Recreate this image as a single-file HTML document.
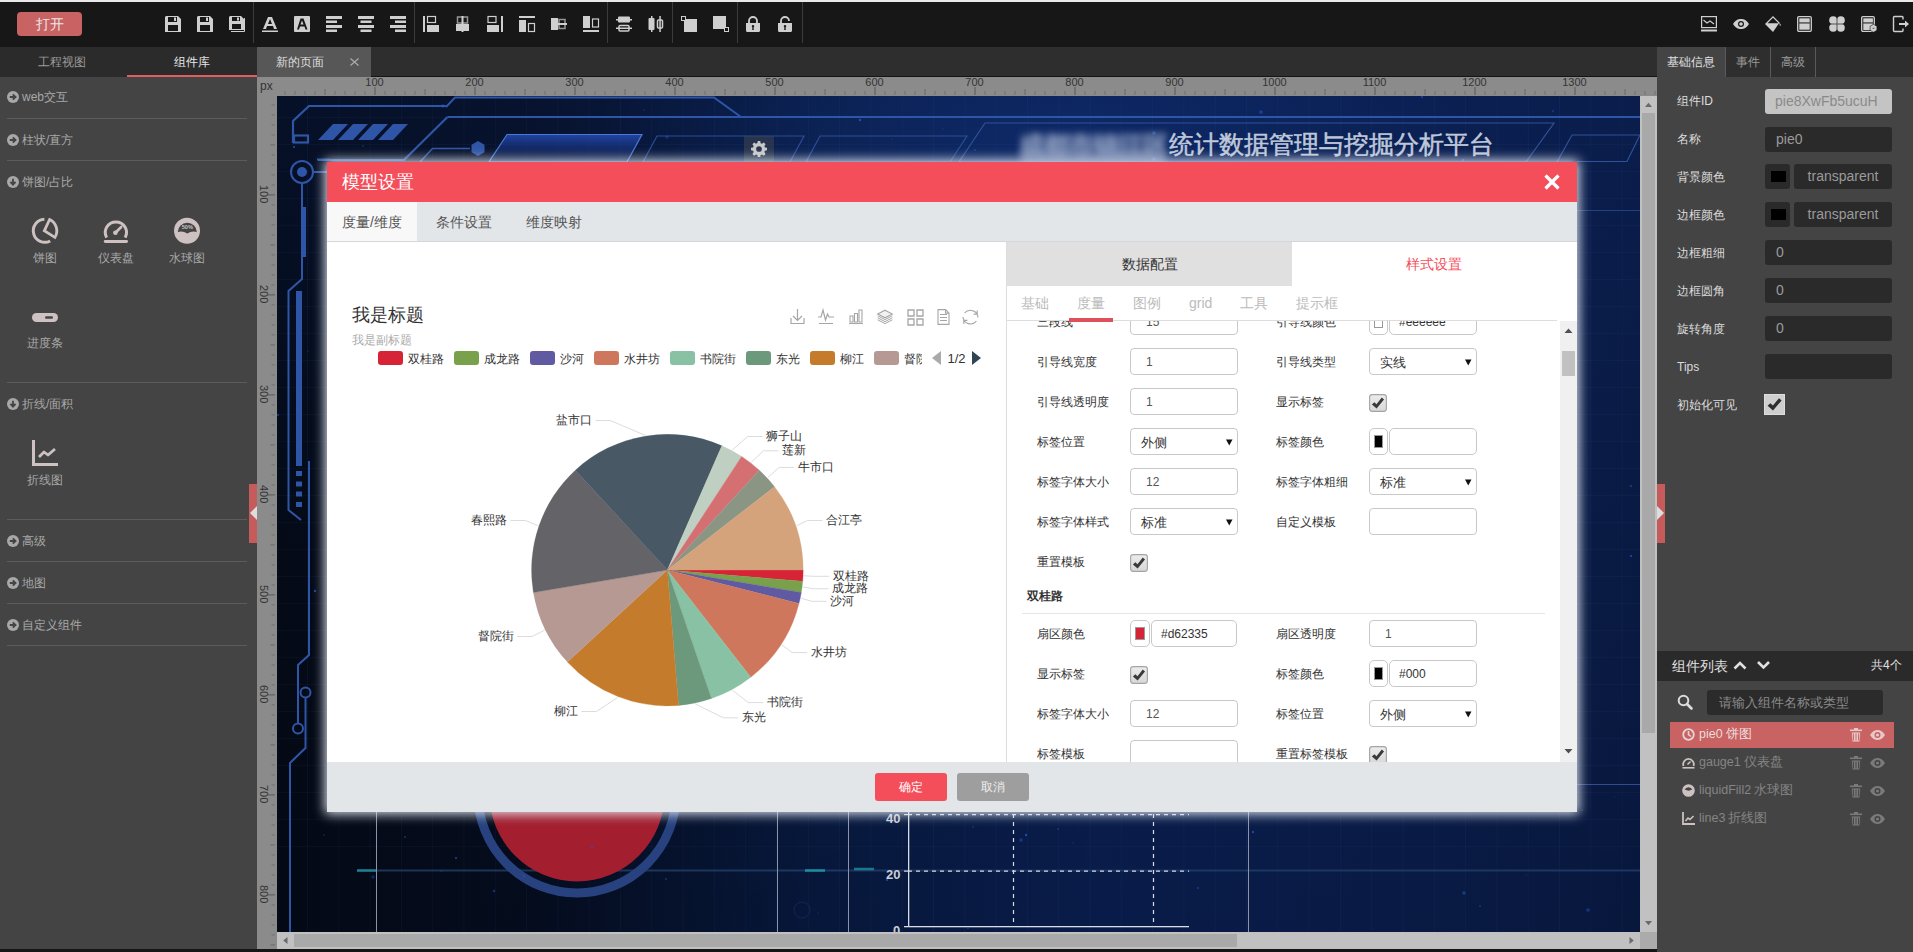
<!DOCTYPE html><html><head><meta charset="utf-8"><style>
*{box-sizing:border-box;margin:0;padding:0}
html,body{width:1913px;height:952px;overflow:hidden;background:#444;font-family:"Liberation Sans",sans-serif;font-size:12px;color:#333}
.a{position:absolute;white-space:nowrap}
svg{position:absolute;overflow:visible}
.t{position:absolute;white-space:nowrap;line-height:1}
</style></head><body>
<div class="a" style="left:0px;top:0px;width:1913px;height:2px;background:#e9e9e9;"></div>
<div class="a" style="left:0px;top:2px;width:1913px;height:45px;background:#171717;"></div>
<div class="a" style="left:17px;top:12px;width:65px;height:24px;background:#c96262;border-radius:4px;color:#e8e8e8;font-size:14px;text-align:center;line-height:24px">打开</div>
<div class="a" style="left:253px;top:2px;width:1px;height:41px;background:#3c3c3c;"></div>
<div class="a" style="left:414px;top:2px;width:1px;height:41px;background:#3c3c3c;"></div>
<div class="a" style="left:607px;top:2px;width:1px;height:41px;background:#3c3c3c;"></div>
<div class="a" style="left:672px;top:2px;width:1px;height:41px;background:#3c3c3c;"></div>
<div class="a" style="left:737px;top:2px;width:1px;height:41px;background:#3c3c3c;"></div>
<div class="a" style="left:802px;top:2px;width:1px;height:41px;background:#3c3c3c;"></div>
<svg style="left:165px;top:16px" width="16" height="16" viewBox="0 0 16 16"><path d="M1 0h12l3 3v13H0V1z M3 1v5h9V1z M3 9v6h10V9z M9 1.5h2v3.5H9z" fill="#cfcfcf" fill-rule="evenodd"/></svg>
<svg style="left:197px;top:16px" width="16" height="16" viewBox="0 0 16 16"><path d="M1 0h12l3 3v13H0V1z M3 1v5h9V1z M3 9v6h10V9z M9 1.5h2v3.5H9z" fill="#cfcfcf" fill-rule="evenodd"/></svg>
<svg style="left:229px;top:16px" width="16" height="16" viewBox="0 0 16 16"><path d="M1 0h11l3 3v11H0V1z M3 1v4h8V1z M3 8v5h9V8z M8 1.5h2v3H8z" fill="#cfcfcf" fill-rule="evenodd"/><path d="M2 15.5h13.5V2" stroke="#cfcfcf" fill="none" stroke-width="1"/></svg>
<svg style="left:262px;top:16px" width="16" height="16" viewBox="0 0 16 16"><path d="M6 1h4l5 12h-3l-1-3H5l-1 3H1z M6 8h4l-2-5z" fill="#cfcfcf" fill-rule="evenodd"/><rect x="0" y="14.5" width="16" height="1.5" fill="#cfcfcf"/></svg>
<svg style="left:294px;top:16px" width="16" height="16" viewBox="0 0 16 16"><path d="M1 0h14a1 1 0 0 1 1 1v14a1 1 0 0 1-1 1H1a1 1 0 0 1-1-1V1a1 1 0 0 1 1-1z M6.5 2.5h3l4 11h-2l-1-3h-4.5l-1 3h-2z M6.5 8.5h3l-1.5-4z" fill="#cfcfcf" fill-rule="evenodd"/></svg>
<svg style="left:326px;top:16px" width="16" height="16" viewBox="0 0 16 16"><rect x="0" y="0" width="16" height="3" fill="#cfcfcf"/><rect x="0" y="4.5" width="11" height="2.5" fill="#cfcfcf"/><rect x="0" y="9" width="16" height="3" fill="#cfcfcf"/><rect x="0" y="13.5" width="11" height="2.5" fill="#cfcfcf"/></svg>
<svg style="left:358px;top:16px" width="16" height="16" viewBox="0 0 16 16"><rect x="0" y="0" width="16" height="3" fill="#cfcfcf"/><rect x="2.5" y="4.5" width="11" height="2.5" fill="#cfcfcf"/><rect x="0" y="9" width="16" height="3" fill="#cfcfcf"/><rect x="2.5" y="13.5" width="11" height="2.5" fill="#cfcfcf"/></svg>
<svg style="left:390px;top:16px" width="16" height="16" viewBox="0 0 16 16"><rect x="0" y="0" width="16" height="3" fill="#cfcfcf"/><rect x="5" y="4.5" width="11" height="2.5" fill="#cfcfcf"/><rect x="0" y="9" width="16" height="3" fill="#cfcfcf"/><rect x="5" y="13.5" width="11" height="2.5" fill="#cfcfcf"/></svg>
<svg style="left:423px;top:16px" width="16" height="16" viewBox="0 0 16 16"><rect x="0" y="0" width="2" height="16" fill="#cfcfcf"/><rect x="4.5" y="0.5" width="8" height="6" fill="none" stroke="#cfcfcf" stroke-width="1.2"/><rect x="4" y="9" width="12" height="7" fill="#cfcfcf"/></svg>
<svg style="left:456px;top:16px" width="16" height="16" viewBox="0 0 16 16"><rect x="1.5" y="1" width="10" height="6" fill="none" stroke="#cfcfcf" stroke-width="1.5" opacity=".7"/><rect x="0" y="8" width="13" height="7" fill="#cfcfcf"/><rect x="5.5" y="0" width="2" height="16" fill="#cfcfcf"/></svg>
<svg style="left:487px;top:16px" width="16" height="16" viewBox="0 0 16 16"><rect x="14" y="0" width="2" height="16" fill="#cfcfcf"/><rect x="1" y="0.5" width="8" height="6" fill="none" stroke="#cfcfcf" stroke-width="1.2"/><rect x="0" y="9" width="12" height="7" fill="#cfcfcf"/></svg>
<svg style="left:519px;top:16px" width="16" height="16" viewBox="0 0 16 16"><rect x="0" y="0" width="16" height="2" fill="#cfcfcf"/><rect x="0" y="4" width="7" height="12" fill="#cfcfcf"/><rect x="9.5" y="7.5" width="6" height="8" fill="none" stroke="#cfcfcf" stroke-width="1.2"/></svg>
<svg style="left:551px;top:16px" width="16" height="16" viewBox="0 0 16 16"><rect x="0" y="2" width="7" height="12" fill="#cfcfcf"/><rect x="8" y="3.5" width="6" height="9" fill="none" stroke="#cfcfcf" stroke-width="1.5" opacity=".7"/><rect x="0" y="7" width="16" height="2" fill="#cfcfcf"/></svg>
<svg style="left:583px;top:16px" width="16" height="16" viewBox="0 0 16 16"><rect x="0" y="0" width="7" height="12" fill="#cfcfcf"/><rect x="9.5" y="3" width="6" height="8" fill="none" stroke="#cfcfcf" stroke-width="1.2"/><rect x="0" y="14" width="16" height="2" fill="#cfcfcf"/></svg>
<svg style="left:616px;top:16px" width="16" height="16" viewBox="0 0 16 16"><rect x="2" y="0.5" width="12" height="6" rx="1" fill="#cfcfcf"/><rect x="0" y="3" width="16" height="1.5" fill="#cfcfcf"/><rect x="3" y="9.5" width="10" height="5.5" rx="1" fill="none" stroke="#cfcfcf" stroke-width="1.5"/><rect x="0" y="11.5" width="16" height="1.5" fill="#cfcfcf"/></svg>
<svg style="left:648px;top:16px" width="16" height="16" viewBox="0 0 16 16"><rect x="0.5" y="2" width="6" height="12" rx="1" fill="#cfcfcf"/><rect x="3" y="0" width="1.5" height="16" fill="#cfcfcf"/><rect x="9.5" y="4" width="5" height="8" rx="1" fill="none" stroke="#cfcfcf" stroke-width="1.5"/><rect x="11.3" y="0" width="1.5" height="16" fill="#cfcfcf"/></svg>
<svg style="left:681px;top:16px" width="16" height="16" viewBox="0 0 16 16"><rect x="3" y="3" width="13" height="13" fill="#cfcfcf"/><rect x="0.5" y="0.5" width="4" height="4" fill="#171717" stroke="#cfcfcf" stroke-width="1"/></svg>
<svg style="left:713px;top:16px" width="16" height="16" viewBox="0 0 16 16"><rect x="0" y="0" width="13" height="13" fill="#cfcfcf"/><rect x="11.5" y="11.5" width="4" height="4" fill="#171717" stroke="#cfcfcf" stroke-width="1"/></svg>
<svg style="left:745px;top:16px" width="16" height="16" viewBox="0 0 16 16"><path d="M4 7V5a4 4 0 0 1 8 0v2" fill="none" stroke="#cfcfcf" stroke-width="1.8"/><path d="M1 7h14v7.5a1.5 1.5 0 0 1-1.5 1.5h-11A1.5 1.5 0 0 1 1 14.5z M8 9a1.3 1.3 0 0 0-.6 2.4L7.2 14h1.6l-.2-2.6A1.3 1.3 0 0 0 8 9z" fill="#cfcfcf" fill-rule="evenodd"/></svg>
<svg style="left:777px;top:16px" width="16" height="16" viewBox="0 0 16 16"><path d="M4 7V5a4 4 0 0 1 8 0" fill="none" stroke="#cfcfcf" stroke-width="1.8"/><path d="M1 7h14v7.5a1.5 1.5 0 0 1-1.5 1.5h-11A1.5 1.5 0 0 1 1 14.5z M8 9a1.3 1.3 0 0 0-.6 2.4L7.2 14h1.6l-.2-2.6A1.3 1.3 0 0 0 8 9z" fill="#cfcfcf" fill-rule="evenodd"/></svg>
<svg style="left:1701px;top:16px" width="16" height="16" viewBox="0 0 16 16"><rect x="0.6" y="0.6" width="14.8" height="11" fill="none" stroke="#cfcfcf" stroke-width="1.2"/><path d="M2.5 4l3.5 3 3-2 4 3" fill="none" stroke="#cfcfcf" stroke-width="1.1"/><rect x="0" y="13.5" width="16" height="2" fill="#cfcfcf"/></svg>
<svg style="left:1733px;top:16px" width="16" height="16" viewBox="0 0 16 16"><path d="M0 8C2.5 4 5 3 8 3s5.5 1 8 5c-2.5 4-5 5-8 5s-5.5-1-8-5z M8 5a3 3 0 1 0 0 6a3 3 0 1 0 0-6z" fill="#cfcfcf" fill-rule="evenodd"/><circle cx="8" cy="8" r="1.8" fill="#cfcfcf"/></svg>
<svg style="left:1765px;top:16px" width="16" height="16" viewBox="0 0 16 16"><path d="M8 0l6.5 6.5L8 16 0 8z M8 1.8L2.5 7.3h11z" fill="#cfcfcf" fill-rule="evenodd"/><path d="M14 6l2 3-1 1z" fill="#cfcfcf"/></svg>
<svg style="left:1797px;top:16px" width="16" height="16" viewBox="0 0 16 16"><rect x="0.7" y="0.7" width="13.6" height="14.6" rx="1.2" fill="none" stroke="#cfcfcf" stroke-width="1.3"/><rect x="2.3" y="2.3" width="10.4" height="4" fill="#cfcfcf"/><rect x="2.3" y="6.3" width="10.4" height="1.4" fill="#777"/><rect x="2.3" y="7.7" width="10.4" height="6" fill="#cfcfcf"/></svg>
<svg style="left:1829px;top:16px" width="16" height="16" viewBox="0 0 16 16"><circle cx="4.2" cy="4.2" r="4" fill="#cfcfcf"/><circle cx="11.8" cy="4.2" r="4" fill="#cfcfcf"/><circle cx="4.2" cy="11.8" r="4" fill="#cfcfcf"/><circle cx="11.8" cy="11.8" r="4" fill="#cfcfcf"/><rect x="4.2" y="4.2" width="7.6" height="7.6" fill="#cfcfcf"/><path d="M8 0v16 M0 8h16" stroke="#171717" stroke-width=".9" opacity=".75"/></svg>
<svg style="left:1861px;top:16px" width="16" height="16" viewBox="0 0 16 16"><rect x="0.7" y="0.7" width="12.6" height="14.6" rx="1.2" fill="none" stroke="#cfcfcf" stroke-width="1.3"/><rect x="2.3" y="2.3" width="9.6" height="4" fill="#cfcfcf"/><rect x="2.3" y="6.3" width="9.6" height="1.4" fill="#777"/><rect x="2.3" y="7.7" width="9.6" height="6.3" fill="#cfcfcf"/><path d="M12.5 8.3l3.4 2v4l-3.4 2-3.4-2v-4z" fill="#cfcfcf" stroke="#171717" stroke-width=".6"/><rect x="11.6" y="11.8" width="1.8" height="1" fill="#555"/></svg>
<svg style="left:1893px;top:16px" width="16" height="16" viewBox="0 0 16 16"><path d="M10 3.5V1.5a1 1 0 0 0-1-1H1.5a1 1 0 0 0-1 1v13a1 1 0 0 0 1 1H9a1 1 0 0 0 1-1v-2" fill="none" stroke="#cfcfcf" stroke-width="1.4"/><path d="M6 7h6V4.5l4 3.5-4 3.5V9H6z" fill="#cfcfcf"/></svg>
<div class="a" style="left:0px;top:47px;width:257px;height:30px;background:#2b2b2b;"></div>
<div class="a" style="left:127px;top:75px;width:130px;height:2px;background:#df5f60;"></div>
<div class="t" style="left:-38.0px;top:53.5px;width:200px;text-align:center;height:16px;line-height:16px;font-size:12px;color:#9a9a9a;">工程视图</div>
<div class="t" style="left:92.0px;top:53.5px;width:200px;text-align:center;height:16px;line-height:16px;font-size:12px;color:#e6e6e6;">组件库</div>
<div class="a" style="left:0px;top:77px;width:257px;height:875px;background:#444;"></div>
<svg style="left:7px;top:91px" width="12" height="12" viewBox="0 0 12 12"><circle cx="6" cy="6" r="6" fill="#a8a8a8"/><path d="M2.8 6h5.2 M5.8 3.4L8.6 6 5.8 8.6" stroke="#444" stroke-width="1.8" fill="none"/></svg>
<div class="t" style="left:22px;top:89.0px;height:16px;line-height:16px;font-size:12px;color:#a8a8a8;">web交互</div>
<svg style="left:7px;top:133.5px" width="12" height="12" viewBox="0 0 12 12"><circle cx="6" cy="6" r="6" fill="#a8a8a8"/><path d="M2.8 6h5.2 M5.8 3.4L8.6 6 5.8 8.6" stroke="#444" stroke-width="1.8" fill="none"/></svg>
<div class="t" style="left:22px;top:131.5px;height:16px;line-height:16px;font-size:12px;color:#a8a8a8;">柱状/直方</div>
<svg style="left:7px;top:176px" width="12" height="12" viewBox="0 0 12 12"><circle cx="6" cy="6" r="6" fill="#a8a8a8"/><path d="M6 2.8v5.2 M3.4 5.8L6 8.6 8.6 5.8" stroke="#444" stroke-width="1.8" fill="none"/></svg>
<div class="t" style="left:22px;top:174.0px;height:16px;line-height:16px;font-size:12px;color:#a8a8a8;">饼图/占比</div>
<svg style="left:7px;top:398px" width="12" height="12" viewBox="0 0 12 12"><circle cx="6" cy="6" r="6" fill="#a8a8a8"/><path d="M6 2.8v5.2 M3.4 5.8L6 8.6 8.6 5.8" stroke="#444" stroke-width="1.8" fill="none"/></svg>
<div class="t" style="left:22px;top:396.0px;height:16px;line-height:16px;font-size:12px;color:#a8a8a8;">折线/面积</div>
<svg style="left:7px;top:534.5px" width="12" height="12" viewBox="0 0 12 12"><circle cx="6" cy="6" r="6" fill="#a8a8a8"/><path d="M2.8 6h5.2 M5.8 3.4L8.6 6 5.8 8.6" stroke="#444" stroke-width="1.8" fill="none"/></svg>
<div class="t" style="left:22px;top:532.5px;height:16px;line-height:16px;font-size:12px;color:#a8a8a8;">高级</div>
<svg style="left:7px;top:576.5px" width="12" height="12" viewBox="0 0 12 12"><circle cx="6" cy="6" r="6" fill="#a8a8a8"/><path d="M2.8 6h5.2 M5.8 3.4L8.6 6 5.8 8.6" stroke="#444" stroke-width="1.8" fill="none"/></svg>
<div class="t" style="left:22px;top:574.5px;height:16px;line-height:16px;font-size:12px;color:#a8a8a8;">地图</div>
<svg style="left:7px;top:618.5px" width="12" height="12" viewBox="0 0 12 12"><circle cx="6" cy="6" r="6" fill="#a8a8a8"/><path d="M2.8 6h5.2 M5.8 3.4L8.6 6 5.8 8.6" stroke="#444" stroke-width="1.8" fill="none"/></svg>
<div class="t" style="left:22px;top:616.5px;height:16px;line-height:16px;font-size:12px;color:#a8a8a8;">自定义组件</div>
<div class="a" style="left:7px;top:118px;width:240px;height:1px;background:#5c5c5c;"></div>
<div class="a" style="left:7px;top:160px;width:240px;height:1px;background:#5c5c5c;"></div>
<div class="a" style="left:7px;top:382px;width:240px;height:1px;background:#5c5c5c;"></div>
<div class="a" style="left:7px;top:519px;width:240px;height:1px;background:#5c5c5c;"></div>
<div class="a" style="left:7px;top:561px;width:240px;height:1px;background:#5c5c5c;"></div>
<div class="a" style="left:7px;top:603px;width:240px;height:1px;background:#5c5c5c;"></div>
<div class="a" style="left:7px;top:645px;width:240px;height:1px;background:#5c5c5c;"></div>
<svg style="left:31px;top:217px" width="28" height="28" viewBox="0 0 28 28"><path d="M13.4 2.3A11.5 11.5 0 1 0 19.2 23.95" fill="none" stroke="#cdc1c1" stroke-width="3"/><path d="M13.3 13.8L18.6 2.5A12.5 12.5 0 0 1 23.9 20.4Z" fill="none" stroke="#cdc1c1" stroke-width="2.8"/></svg>
<svg style="left:103px;top:219px" width="26" height="25" viewBox="0 0 26 25"><path d="M3.6 18.6A10.6 10.6 0 1 1 22.2 18.6" fill="none" stroke="#cdc1c1" stroke-width="3"/><path d="M12.4 13.7l5.8-5.7" stroke="#cdc1c1" stroke-width="2.6" stroke-linecap="round"/><circle cx="12.4" cy="13.7" r="2.3" fill="#cdc1c1"/><rect x="0.8" y="21" width="24.2" height="3" rx="1.4" fill="#cdc1c1"/></svg>
<svg style="left:174px;top:218px" width="26" height="26" viewBox="0 0 26 26"><circle cx="13" cy="12.8" r="13" fill="#cdc1c1"/><path d="M3.8 14A9.5 9.2 0 0 1 22.8 14Q18 12.4 13.3 15.4Q8.6 12.4 3.8 14Z" fill="#444"/><text x="13.3" y="10.6" font-size="5.6" font-weight="bold" fill="#cdc1c1" text-anchor="middle" font-family="Liberation Sans">50%</text></svg>
<div class="t" style="left:-55.0px;top:249.5px;width:200px;text-align:center;height:16px;line-height:16px;font-size:12px;color:#a8a8a8;">饼图</div>
<div class="t" style="left:16.0px;top:249.5px;width:200px;text-align:center;height:16px;line-height:16px;font-size:12px;color:#a8a8a8;">仪表盘</div>
<div class="t" style="left:87.0px;top:249.5px;width:200px;text-align:center;height:16px;line-height:16px;font-size:12px;color:#a8a8a8;">水球图</div>
<svg style="left:32px;top:313px" width="26" height="10" viewBox="0 0 26 10"><rect x="0" y="0" width="26" height="9" rx="4.5" fill="#cdc1c1"/><rect x="13" y="3.2" width="8" height="2.6" rx="1.3" fill="#444"/></svg>
<div class="t" style="left:-55.0px;top:335.0px;width:200px;text-align:center;height:16px;line-height:16px;font-size:12px;color:#a8a8a8;">进度条</div>
<svg style="left:32px;top:440px" width="26" height="26" viewBox="0 0 26 26"><path d="M1.5 0v24.5H26" fill="none" stroke="#cdc1c1" stroke-width="3"/><path d="M7 17l5-5 4 3 7-6" fill="none" stroke="#cdc1c1" stroke-width="2.8" stroke-linejoin="round"/></svg>
<div class="t" style="left:-55.0px;top:471.5px;width:200px;text-align:center;height:16px;line-height:16px;font-size:12px;color:#a8a8a8;">折线图</div>
<div class="a" style="left:249px;top:484px;width:8px;height:59px;background:#c55b5b;"></div>
<svg style="left:249px;top:504px" width="8" height="18" viewBox="0 0 8 18"><path d="M8 2L1 9l7 7z" fill="#ddd"/></svg>
<div class="a" style="left:257px;top:47px;width:1400px;height:30px;background:#2e2e2e;"></div>
<div class="a" style="left:257px;top:47px;width:114px;height:30px;background:#575757;"></div>
<div class="a" style="left:371px;top:76px;width:1286px;height:1px;background:#141414;"></div>
<div class="t" style="left:276px;top:53.5px;height:16px;line-height:16px;font-size:12px;color:#dcdcdc;">新的页面</div>
<svg style="left:350px;top:58px" width="9" height="8" viewBox="0 0 9 8"><path d="M.5 .5l8 7 M8.5 .5l-8 7" stroke="#a8a8a8" stroke-width="1.3"/></svg>
<div class="a" style="left:257px;top:77px;width:1400px;height:19px;background:#8b8b8b;"></div>
<svg style="left:277px;top:77px" width="1380" height="19"><rect x="7.5" y="14" width="1" height="4" fill="#727272"/><rect x="17.5" y="14" width="1" height="4" fill="#727272"/><rect x="27.5" y="14" width="1" height="4" fill="#727272"/><rect x="37.5" y="14" width="1" height="4" fill="#727272"/><rect x="47.5" y="12" width="1" height="6" fill="#6a6a6a"/><rect x="57.5" y="14" width="1" height="4" fill="#727272"/><rect x="67.5" y="14" width="1" height="4" fill="#727272"/><rect x="77.5" y="14" width="1" height="4" fill="#727272"/><rect x="87.5" y="14" width="1" height="4" fill="#727272"/><rect x="97.5" y="10" width="1" height="8" fill="#5a5a5a"/><rect x="107.5" y="14" width="1" height="4" fill="#727272"/><rect x="117.5" y="14" width="1" height="4" fill="#727272"/><rect x="127.5" y="14" width="1" height="4" fill="#727272"/><rect x="137.5" y="14" width="1" height="4" fill="#727272"/><rect x="147.5" y="12" width="1" height="6" fill="#6a6a6a"/><rect x="157.5" y="14" width="1" height="4" fill="#727272"/><rect x="167.5" y="14" width="1" height="4" fill="#727272"/><rect x="177.5" y="14" width="1" height="4" fill="#727272"/><rect x="187.5" y="14" width="1" height="4" fill="#727272"/><rect x="197.5" y="10" width="1" height="8" fill="#5a5a5a"/><rect x="207.5" y="14" width="1" height="4" fill="#727272"/><rect x="217.5" y="14" width="1" height="4" fill="#727272"/><rect x="227.5" y="14" width="1" height="4" fill="#727272"/><rect x="237.5" y="14" width="1" height="4" fill="#727272"/><rect x="247.5" y="12" width="1" height="6" fill="#6a6a6a"/><rect x="257.5" y="14" width="1" height="4" fill="#727272"/><rect x="267.5" y="14" width="1" height="4" fill="#727272"/><rect x="277.5" y="14" width="1" height="4" fill="#727272"/><rect x="287.5" y="14" width="1" height="4" fill="#727272"/><rect x="297.5" y="10" width="1" height="8" fill="#5a5a5a"/><rect x="307.5" y="14" width="1" height="4" fill="#727272"/><rect x="317.5" y="14" width="1" height="4" fill="#727272"/><rect x="327.5" y="14" width="1" height="4" fill="#727272"/><rect x="337.5" y="14" width="1" height="4" fill="#727272"/><rect x="347.5" y="12" width="1" height="6" fill="#6a6a6a"/><rect x="357.5" y="14" width="1" height="4" fill="#727272"/><rect x="367.5" y="14" width="1" height="4" fill="#727272"/><rect x="377.5" y="14" width="1" height="4" fill="#727272"/><rect x="387.5" y="14" width="1" height="4" fill="#727272"/><rect x="397.5" y="10" width="1" height="8" fill="#5a5a5a"/><rect x="407.5" y="14" width="1" height="4" fill="#727272"/><rect x="417.5" y="14" width="1" height="4" fill="#727272"/><rect x="427.5" y="14" width="1" height="4" fill="#727272"/><rect x="437.5" y="14" width="1" height="4" fill="#727272"/><rect x="447.5" y="12" width="1" height="6" fill="#6a6a6a"/><rect x="457.5" y="14" width="1" height="4" fill="#727272"/><rect x="467.5" y="14" width="1" height="4" fill="#727272"/><rect x="477.5" y="14" width="1" height="4" fill="#727272"/><rect x="487.5" y="14" width="1" height="4" fill="#727272"/><rect x="497.5" y="10" width="1" height="8" fill="#5a5a5a"/><rect x="507.5" y="14" width="1" height="4" fill="#727272"/><rect x="517.5" y="14" width="1" height="4" fill="#727272"/><rect x="527.5" y="14" width="1" height="4" fill="#727272"/><rect x="537.5" y="14" width="1" height="4" fill="#727272"/><rect x="547.5" y="12" width="1" height="6" fill="#6a6a6a"/><rect x="557.5" y="14" width="1" height="4" fill="#727272"/><rect x="567.5" y="14" width="1" height="4" fill="#727272"/><rect x="577.5" y="14" width="1" height="4" fill="#727272"/><rect x="587.5" y="14" width="1" height="4" fill="#727272"/><rect x="597.5" y="10" width="1" height="8" fill="#5a5a5a"/><rect x="607.5" y="14" width="1" height="4" fill="#727272"/><rect x="617.5" y="14" width="1" height="4" fill="#727272"/><rect x="627.5" y="14" width="1" height="4" fill="#727272"/><rect x="637.5" y="14" width="1" height="4" fill="#727272"/><rect x="647.5" y="12" width="1" height="6" fill="#6a6a6a"/><rect x="657.5" y="14" width="1" height="4" fill="#727272"/><rect x="667.5" y="14" width="1" height="4" fill="#727272"/><rect x="677.5" y="14" width="1" height="4" fill="#727272"/><rect x="687.5" y="14" width="1" height="4" fill="#727272"/><rect x="697.5" y="10" width="1" height="8" fill="#5a5a5a"/><rect x="707.5" y="14" width="1" height="4" fill="#727272"/><rect x="717.5" y="14" width="1" height="4" fill="#727272"/><rect x="727.5" y="14" width="1" height="4" fill="#727272"/><rect x="737.5" y="14" width="1" height="4" fill="#727272"/><rect x="747.5" y="12" width="1" height="6" fill="#6a6a6a"/><rect x="757.5" y="14" width="1" height="4" fill="#727272"/><rect x="767.5" y="14" width="1" height="4" fill="#727272"/><rect x="777.5" y="14" width="1" height="4" fill="#727272"/><rect x="787.5" y="14" width="1" height="4" fill="#727272"/><rect x="797.5" y="10" width="1" height="8" fill="#5a5a5a"/><rect x="807.5" y="14" width="1" height="4" fill="#727272"/><rect x="817.5" y="14" width="1" height="4" fill="#727272"/><rect x="827.5" y="14" width="1" height="4" fill="#727272"/><rect x="837.5" y="14" width="1" height="4" fill="#727272"/><rect x="847.5" y="12" width="1" height="6" fill="#6a6a6a"/><rect x="857.5" y="14" width="1" height="4" fill="#727272"/><rect x="867.5" y="14" width="1" height="4" fill="#727272"/><rect x="877.5" y="14" width="1" height="4" fill="#727272"/><rect x="887.5" y="14" width="1" height="4" fill="#727272"/><rect x="897.5" y="10" width="1" height="8" fill="#5a5a5a"/><rect x="907.5" y="14" width="1" height="4" fill="#727272"/><rect x="917.5" y="14" width="1" height="4" fill="#727272"/><rect x="927.5" y="14" width="1" height="4" fill="#727272"/><rect x="937.5" y="14" width="1" height="4" fill="#727272"/><rect x="947.5" y="12" width="1" height="6" fill="#6a6a6a"/><rect x="957.5" y="14" width="1" height="4" fill="#727272"/><rect x="967.5" y="14" width="1" height="4" fill="#727272"/><rect x="977.5" y="14" width="1" height="4" fill="#727272"/><rect x="987.5" y="14" width="1" height="4" fill="#727272"/><rect x="997.5" y="10" width="1" height="8" fill="#5a5a5a"/><rect x="1007.5" y="14" width="1" height="4" fill="#727272"/><rect x="1017.5" y="14" width="1" height="4" fill="#727272"/><rect x="1027.5" y="14" width="1" height="4" fill="#727272"/><rect x="1037.5" y="14" width="1" height="4" fill="#727272"/><rect x="1047.5" y="12" width="1" height="6" fill="#6a6a6a"/><rect x="1057.5" y="14" width="1" height="4" fill="#727272"/><rect x="1067.5" y="14" width="1" height="4" fill="#727272"/><rect x="1077.5" y="14" width="1" height="4" fill="#727272"/><rect x="1087.5" y="14" width="1" height="4" fill="#727272"/><rect x="1097.5" y="10" width="1" height="8" fill="#5a5a5a"/><rect x="1107.5" y="14" width="1" height="4" fill="#727272"/><rect x="1117.5" y="14" width="1" height="4" fill="#727272"/><rect x="1127.5" y="14" width="1" height="4" fill="#727272"/><rect x="1137.5" y="14" width="1" height="4" fill="#727272"/><rect x="1147.5" y="12" width="1" height="6" fill="#6a6a6a"/><rect x="1157.5" y="14" width="1" height="4" fill="#727272"/><rect x="1167.5" y="14" width="1" height="4" fill="#727272"/><rect x="1177.5" y="14" width="1" height="4" fill="#727272"/><rect x="1187.5" y="14" width="1" height="4" fill="#727272"/><rect x="1197.5" y="10" width="1" height="8" fill="#5a5a5a"/><rect x="1207.5" y="14" width="1" height="4" fill="#727272"/><rect x="1217.5" y="14" width="1" height="4" fill="#727272"/><rect x="1227.5" y="14" width="1" height="4" fill="#727272"/><rect x="1237.5" y="14" width="1" height="4" fill="#727272"/><rect x="1247.5" y="12" width="1" height="6" fill="#6a6a6a"/><rect x="1257.5" y="14" width="1" height="4" fill="#727272"/><rect x="1267.5" y="14" width="1" height="4" fill="#727272"/><rect x="1277.5" y="14" width="1" height="4" fill="#727272"/><rect x="1287.5" y="14" width="1" height="4" fill="#727272"/><rect x="1297.5" y="10" width="1" height="8" fill="#5a5a5a"/><rect x="1307.5" y="14" width="1" height="4" fill="#727272"/><rect x="1317.5" y="14" width="1" height="4" fill="#727272"/><rect x="1327.5" y="14" width="1" height="4" fill="#727272"/><rect x="1337.5" y="14" width="1" height="4" fill="#727272"/><rect x="1347.5" y="12" width="1" height="6" fill="#6a6a6a"/><rect x="1357.5" y="14" width="1" height="4" fill="#727272"/><rect x="1367.5" y="14" width="1" height="4" fill="#727272"/><rect x="1377.5" y="14" width="1" height="4" fill="#727272"/></svg>
<div class="t" style="left:260px;top:77.5px;height:16px;line-height:16px;font-size:12px;color:#333;">px</div>
<div class="t" style="left:344.5px;top:74.5px;width:60px;text-align:center;height:15px;line-height:15px;font-size:11px;color:#333;">100</div>
<div class="t" style="left:444.5px;top:74.5px;width:60px;text-align:center;height:15px;line-height:15px;font-size:11px;color:#333;">200</div>
<div class="t" style="left:544.5px;top:74.5px;width:60px;text-align:center;height:15px;line-height:15px;font-size:11px;color:#333;">300</div>
<div class="t" style="left:644.5px;top:74.5px;width:60px;text-align:center;height:15px;line-height:15px;font-size:11px;color:#333;">400</div>
<div class="t" style="left:744.5px;top:74.5px;width:60px;text-align:center;height:15px;line-height:15px;font-size:11px;color:#333;">500</div>
<div class="t" style="left:844.5px;top:74.5px;width:60px;text-align:center;height:15px;line-height:15px;font-size:11px;color:#333;">600</div>
<div class="t" style="left:944.5px;top:74.5px;width:60px;text-align:center;height:15px;line-height:15px;font-size:11px;color:#333;">700</div>
<div class="t" style="left:1044.5px;top:74.5px;width:60px;text-align:center;height:15px;line-height:15px;font-size:11px;color:#333;">800</div>
<div class="t" style="left:1144.5px;top:74.5px;width:60px;text-align:center;height:15px;line-height:15px;font-size:11px;color:#333;">900</div>
<div class="t" style="left:1244.5px;top:74.5px;width:60px;text-align:center;height:15px;line-height:15px;font-size:11px;color:#333;">1000</div>
<div class="t" style="left:1344.5px;top:74.5px;width:60px;text-align:center;height:15px;line-height:15px;font-size:11px;color:#333;">1100</div>
<div class="t" style="left:1444.5px;top:74.5px;width:60px;text-align:center;height:15px;line-height:15px;font-size:11px;color:#333;">1200</div>
<div class="t" style="left:1544.5px;top:74.5px;width:60px;text-align:center;height:15px;line-height:15px;font-size:11px;color:#333;">1300</div>
<div class="a" style="left:257px;top:96px;width:20px;height:853px;background:#8b8b8b;"></div>
<svg style="left:257px;top:95px" width="20" height="854"><rect x="14.5" y="9.4" width="3.5" height="1" fill="#727272"/><rect x="14.5" y="19.4" width="3.5" height="1" fill="#727272"/><rect x="14.5" y="29.4" width="3.5" height="1" fill="#727272"/><rect x="14.5" y="39.4" width="3.5" height="1" fill="#727272"/><rect x="13.5" y="49.4" width="4.5" height="1" fill="#6a6a6a"/><rect x="14.5" y="59.4" width="3.5" height="1" fill="#727272"/><rect x="14.5" y="69.4" width="3.5" height="1" fill="#727272"/><rect x="14.5" y="79.4" width="3.5" height="1" fill="#727272"/><rect x="14.5" y="89.4" width="3.5" height="1" fill="#727272"/><rect x="11" y="99.4" width="7" height="1" fill="#5a5a5a"/><rect x="14.5" y="109.4" width="3.5" height="1" fill="#727272"/><rect x="14.5" y="119.4" width="3.5" height="1" fill="#727272"/><rect x="14.5" y="129.4" width="3.5" height="1" fill="#727272"/><rect x="14.5" y="139.4" width="3.5" height="1" fill="#727272"/><rect x="13.5" y="149.4" width="4.5" height="1" fill="#6a6a6a"/><rect x="14.5" y="159.4" width="3.5" height="1" fill="#727272"/><rect x="14.5" y="169.4" width="3.5" height="1" fill="#727272"/><rect x="14.5" y="179.4" width="3.5" height="1" fill="#727272"/><rect x="14.5" y="189.4" width="3.5" height="1" fill="#727272"/><rect x="11" y="199.4" width="7" height="1" fill="#5a5a5a"/><rect x="14.5" y="209.4" width="3.5" height="1" fill="#727272"/><rect x="14.5" y="219.4" width="3.5" height="1" fill="#727272"/><rect x="14.5" y="229.4" width="3.5" height="1" fill="#727272"/><rect x="14.5" y="239.4" width="3.5" height="1" fill="#727272"/><rect x="13.5" y="249.4" width="4.5" height="1" fill="#6a6a6a"/><rect x="14.5" y="259.4" width="3.5" height="1" fill="#727272"/><rect x="14.5" y="269.4" width="3.5" height="1" fill="#727272"/><rect x="14.5" y="279.4" width="3.5" height="1" fill="#727272"/><rect x="14.5" y="289.4" width="3.5" height="1" fill="#727272"/><rect x="11" y="299.4" width="7" height="1" fill="#5a5a5a"/><rect x="14.5" y="309.4" width="3.5" height="1" fill="#727272"/><rect x="14.5" y="319.4" width="3.5" height="1" fill="#727272"/><rect x="14.5" y="329.4" width="3.5" height="1" fill="#727272"/><rect x="14.5" y="339.4" width="3.5" height="1" fill="#727272"/><rect x="13.5" y="349.4" width="4.5" height="1" fill="#6a6a6a"/><rect x="14.5" y="359.4" width="3.5" height="1" fill="#727272"/><rect x="14.5" y="369.4" width="3.5" height="1" fill="#727272"/><rect x="14.5" y="379.4" width="3.5" height="1" fill="#727272"/><rect x="14.5" y="389.4" width="3.5" height="1" fill="#727272"/><rect x="11" y="399.4" width="7" height="1" fill="#5a5a5a"/><rect x="14.5" y="409.4" width="3.5" height="1" fill="#727272"/><rect x="14.5" y="419.4" width="3.5" height="1" fill="#727272"/><rect x="14.5" y="429.4" width="3.5" height="1" fill="#727272"/><rect x="14.5" y="439.4" width="3.5" height="1" fill="#727272"/><rect x="13.5" y="449.4" width="4.5" height="1" fill="#6a6a6a"/><rect x="14.5" y="459.4" width="3.5" height="1" fill="#727272"/><rect x="14.5" y="469.4" width="3.5" height="1" fill="#727272"/><rect x="14.5" y="479.4" width="3.5" height="1" fill="#727272"/><rect x="14.5" y="489.4" width="3.5" height="1" fill="#727272"/><rect x="11" y="499.4" width="7" height="1" fill="#5a5a5a"/><rect x="14.5" y="509.4" width="3.5" height="1" fill="#727272"/><rect x="14.5" y="519.4" width="3.5" height="1" fill="#727272"/><rect x="14.5" y="529.4" width="3.5" height="1" fill="#727272"/><rect x="14.5" y="539.4" width="3.5" height="1" fill="#727272"/><rect x="13.5" y="549.4" width="4.5" height="1" fill="#6a6a6a"/><rect x="14.5" y="559.4" width="3.5" height="1" fill="#727272"/><rect x="14.5" y="569.4" width="3.5" height="1" fill="#727272"/><rect x="14.5" y="579.4" width="3.5" height="1" fill="#727272"/><rect x="14.5" y="589.4" width="3.5" height="1" fill="#727272"/><rect x="11" y="599.4" width="7" height="1" fill="#5a5a5a"/><rect x="14.5" y="609.4" width="3.5" height="1" fill="#727272"/><rect x="14.5" y="619.4" width="3.5" height="1" fill="#727272"/><rect x="14.5" y="629.4" width="3.5" height="1" fill="#727272"/><rect x="14.5" y="639.4" width="3.5" height="1" fill="#727272"/><rect x="13.5" y="649.4" width="4.5" height="1" fill="#6a6a6a"/><rect x="14.5" y="659.4" width="3.5" height="1" fill="#727272"/><rect x="14.5" y="669.4" width="3.5" height="1" fill="#727272"/><rect x="14.5" y="679.4" width="3.5" height="1" fill="#727272"/><rect x="14.5" y="689.4" width="3.5" height="1" fill="#727272"/><rect x="11" y="699.4" width="7" height="1" fill="#5a5a5a"/><rect x="14.5" y="709.4" width="3.5" height="1" fill="#727272"/><rect x="14.5" y="719.4" width="3.5" height="1" fill="#727272"/><rect x="14.5" y="729.4" width="3.5" height="1" fill="#727272"/><rect x="14.5" y="739.4" width="3.5" height="1" fill="#727272"/><rect x="13.5" y="749.4" width="4.5" height="1" fill="#6a6a6a"/><rect x="14.5" y="759.4" width="3.5" height="1" fill="#727272"/><rect x="14.5" y="769.4" width="3.5" height="1" fill="#727272"/><rect x="14.5" y="779.4" width="3.5" height="1" fill="#727272"/><rect x="14.5" y="789.4" width="3.5" height="1" fill="#727272"/><rect x="11" y="799.4" width="7" height="1" fill="#5a5a5a"/><rect x="14.5" y="809.4" width="3.5" height="1" fill="#727272"/><rect x="14.5" y="819.4" width="3.5" height="1" fill="#727272"/><rect x="14.5" y="829.4" width="3.5" height="1" fill="#727272"/><rect x="14.5" y="839.4" width="3.5" height="1" fill="#727272"/><rect x="13.5" y="849.4" width="4.5" height="1" fill="#6a6a6a"/></svg>
<div class="t" style="left:258px;top:174.4px;width:12px;height:40px;font-size:11px;color:#333;writing-mode:vertical-rl;text-align:center;line-height:12px">100</div>
<div class="t" style="left:258px;top:274.4px;width:12px;height:40px;font-size:11px;color:#333;writing-mode:vertical-rl;text-align:center;line-height:12px">200</div>
<div class="t" style="left:258px;top:374.4px;width:12px;height:40px;font-size:11px;color:#333;writing-mode:vertical-rl;text-align:center;line-height:12px">300</div>
<div class="t" style="left:258px;top:474.4px;width:12px;height:40px;font-size:11px;color:#333;writing-mode:vertical-rl;text-align:center;line-height:12px">400</div>
<div class="t" style="left:258px;top:574.4px;width:12px;height:40px;font-size:11px;color:#333;writing-mode:vertical-rl;text-align:center;line-height:12px">500</div>
<div class="t" style="left:258px;top:674.4px;width:12px;height:40px;font-size:11px;color:#333;writing-mode:vertical-rl;text-align:center;line-height:12px">600</div>
<div class="t" style="left:258px;top:774.4px;width:12px;height:40px;font-size:11px;color:#333;writing-mode:vertical-rl;text-align:center;line-height:12px">700</div>
<div class="t" style="left:258px;top:874.4px;width:12px;height:40px;font-size:11px;color:#333;writing-mode:vertical-rl;text-align:center;line-height:12px">800</div>
<div class="a" style="left:1640px;top:96px;width:17px;height:836px;background:#c1c1c1;"></div>
<div class="a" style="left:1642px;top:113px;width:13px;height:620px;background:#a9a9a9;"></div>
<svg style="left:1640px;top:96px" width="17" height="836"><path d="M5 11h7l-3.5-4.3z M5 825h7l-3.5 4.3z" fill="#6a6a6a"/></svg>
<div class="a" style="left:277px;top:932px;width:1363px;height:17px;background:#c1c1c1;"></div>
<div class="a" style="left:294px;top:934px;width:943px;height:13px;background:#a9a9a9;"></div>
<svg style="left:277px;top:932px" width="1363" height="17"><path d="M10.5 5v7l-4.3-3.5z M1352.5 5v7l4.3-3.5z" fill="#6a6a6a"/></svg>
<div class="a" style="left:1640px;top:932px;width:17px;height:17px;background:#ababab;"></div>
<div class="a" style="left:0px;top:949px;width:1657px;height:3px;background:#151515;"></div>
<div class="a" style="left:277px;top:96px;width:1363px;height:836px;overflow:hidden;background:linear-gradient(90deg,#040a16 0%,#050d1e 18%,#081a40 40%,#0a1f50 60%,#0a1d4a 85%,#091a42 100%)">
<div class="a" style="left:300px;top:-100px;width:900px;height:300px;background:radial-gradient(ellipse at center,rgba(20,60,140,.35),rgba(20,60,140,0) 70%)"></div>
<div class="a" style="left:0;top:0;width:1363px;height:836px;background:linear-gradient(180deg,rgba(16,44,120,.18) 0%,rgba(16,44,120,0) 55%,rgba(0,0,16,.12) 100%)"></div>
<svg style="left:0;top:0" width="1363" height="837"><rect x="30.0" y="0" width="1" height="837" fill="rgba(90,120,180,.07)"/><rect x="61.3" y="0" width="1" height="837" fill="rgba(90,120,180,.07)"/><rect x="92.6" y="0" width="1" height="837" fill="rgba(90,120,180,.07)"/><rect x="123.9" y="0" width="1" height="837" fill="rgba(90,120,180,.07)"/><rect x="155.2" y="0" width="1" height="837" fill="rgba(90,120,180,.07)"/><rect x="186.5" y="0" width="1" height="837" fill="rgba(90,120,180,.07)"/><rect x="217.8" y="0" width="1" height="837" fill="rgba(90,120,180,.07)"/><rect x="249.1" y="0" width="1" height="837" fill="rgba(90,120,180,.07)"/><rect x="280.4" y="0" width="1" height="837" fill="rgba(90,120,180,.07)"/><rect x="311.7" y="0" width="1" height="837" fill="rgba(90,120,180,.07)"/><rect x="343.0" y="0" width="1" height="837" fill="rgba(90,120,180,.07)"/><rect x="374.3" y="0" width="1" height="837" fill="rgba(90,120,180,.07)"/><rect x="405.6" y="0" width="1" height="837" fill="rgba(90,120,180,.07)"/><rect x="436.9" y="0" width="1" height="837" fill="rgba(90,120,180,.07)"/><rect x="468.2" y="0" width="1" height="837" fill="rgba(90,120,180,.07)"/><rect x="499.5" y="0" width="1" height="837" fill="rgba(90,120,180,.07)"/><rect x="530.8" y="0" width="1" height="837" fill="rgba(90,120,180,.07)"/><rect x="562.1" y="0" width="1" height="837" fill="rgba(90,120,180,.07)"/><rect x="593.4" y="0" width="1" height="837" fill="rgba(90,120,180,.07)"/><rect x="624.7" y="0" width="1" height="837" fill="rgba(90,120,180,.07)"/><rect x="656.0" y="0" width="1" height="837" fill="rgba(90,120,180,.07)"/><rect x="687.3" y="0" width="1" height="837" fill="rgba(90,120,180,.07)"/><rect x="718.6" y="0" width="1" height="837" fill="rgba(90,120,180,.07)"/><rect x="749.9" y="0" width="1" height="837" fill="rgba(90,120,180,.07)"/><rect x="781.2" y="0" width="1" height="837" fill="rgba(90,120,180,.07)"/><rect x="812.5" y="0" width="1" height="837" fill="rgba(90,120,180,.07)"/><rect x="843.8" y="0" width="1" height="837" fill="rgba(90,120,180,.07)"/><rect x="875.1" y="0" width="1" height="837" fill="rgba(90,120,180,.07)"/><rect x="906.4" y="0" width="1" height="837" fill="rgba(90,120,180,.07)"/><rect x="937.7" y="0" width="1" height="837" fill="rgba(90,120,180,.07)"/><rect x="969.0" y="0" width="1" height="837" fill="rgba(90,120,180,.07)"/><rect x="1000.3" y="0" width="1" height="837" fill="rgba(90,120,180,.07)"/><rect x="1031.6" y="0" width="1" height="837" fill="rgba(90,120,180,.07)"/><rect x="1062.9" y="0" width="1" height="837" fill="rgba(90,120,180,.07)"/><rect x="1094.2" y="0" width="1" height="837" fill="rgba(90,120,180,.07)"/><rect x="1125.5" y="0" width="1" height="837" fill="rgba(90,120,180,.07)"/><rect x="1156.8" y="0" width="1" height="837" fill="rgba(90,120,180,.07)"/><rect x="1188.1" y="0" width="1" height="837" fill="rgba(90,120,180,.07)"/><rect x="1219.4" y="0" width="1" height="837" fill="rgba(90,120,180,.07)"/><rect x="1250.7" y="0" width="1" height="837" fill="rgba(90,120,180,.07)"/><rect x="1282.0" y="0" width="1" height="837" fill="rgba(90,120,180,.07)"/><rect x="1313.3" y="0" width="1" height="837" fill="rgba(90,120,180,.07)"/><rect x="1344.6" y="0" width="1" height="837" fill="rgba(90,120,180,.07)"/><rect x="1375.9" y="0" width="1" height="837" fill="rgba(90,120,180,.07)"/><rect x="1407.2" y="0" width="1" height="837" fill="rgba(90,120,180,.07)"/><rect x="0" y="21" width="1363" height="1" fill="rgba(90,120,180,.06)"/><rect x="0" y="48" width="1363" height="1" fill="rgba(90,120,180,.06)"/><rect x="0" y="75" width="1363" height="1" fill="rgba(90,120,180,.06)"/><rect x="0" y="102" width="1363" height="1" fill="rgba(90,120,180,.06)"/><rect x="0" y="129" width="1363" height="1" fill="rgba(90,120,180,.06)"/><rect x="0" y="156" width="1363" height="1" fill="rgba(90,120,180,.06)"/><rect x="0" y="183" width="1363" height="1" fill="rgba(90,120,180,.06)"/><rect x="0" y="210" width="1363" height="1" fill="rgba(90,120,180,.06)"/><rect x="0" y="237" width="1363" height="1" fill="rgba(90,120,180,.06)"/><rect x="0" y="264" width="1363" height="1" fill="rgba(90,120,180,.06)"/><rect x="0" y="291" width="1363" height="1" fill="rgba(90,120,180,.06)"/><rect x="0" y="318" width="1363" height="1" fill="rgba(90,120,180,.06)"/><rect x="0" y="345" width="1363" height="1" fill="rgba(90,120,180,.06)"/><rect x="0" y="372" width="1363" height="1" fill="rgba(90,120,180,.06)"/><rect x="0" y="399" width="1363" height="1" fill="rgba(90,120,180,.06)"/><rect x="0" y="426" width="1363" height="1" fill="rgba(90,120,180,.06)"/><rect x="0" y="453" width="1363" height="1" fill="rgba(90,120,180,.06)"/><rect x="0" y="480" width="1363" height="1" fill="rgba(90,120,180,.06)"/><rect x="0" y="507" width="1363" height="1" fill="rgba(90,120,180,.06)"/><rect x="0" y="534" width="1363" height="1" fill="rgba(90,120,180,.06)"/><rect x="0" y="561" width="1363" height="1" fill="rgba(90,120,180,.06)"/><rect x="0" y="588" width="1363" height="1" fill="rgba(90,120,180,.06)"/><rect x="0" y="615" width="1363" height="1" fill="rgba(90,120,180,.06)"/><rect x="0" y="642" width="1363" height="1" fill="rgba(90,120,180,.06)"/><rect x="0" y="669" width="1363" height="1" fill="rgba(90,120,180,.06)"/><rect x="0" y="696" width="1363" height="1" fill="rgba(90,120,180,.06)"/><rect x="0" y="723" width="1363" height="1" fill="rgba(90,120,180,.06)"/><rect x="0" y="750" width="1363" height="1" fill="rgba(90,120,180,.06)"/></svg>
<svg style="left:0;top:0" width="1363" height="837"><polyline points="169.0,11.0 178.0,1.5 437.0,1.5 464.0,21.0" fill="none" stroke="#2f55a6" stroke-width="2" opacity="1"/><polyline points="31.0,10.0 169.0,10.0" fill="none" stroke="#2f55a6" stroke-width="2.2" opacity="1"/><polyline points="32.0,10.0 16.0,25.0 16.0,47.0" fill="none" stroke="#2f55a6" stroke-width="2.2" opacity="1"/><rect x="17" y="39.5" width="14" height="7" fill="none" stroke="#2f55a6" stroke-width="2.2"/><polygon points="41.0,44.0 56.0,44.0 71.0,28.0 56.0,28.0" fill="#2f55a6" stroke="none" stroke-width="1" opacity="1"/><polygon points="61.0,44.0 76.0,44.0 91.0,28.0 76.0,28.0" fill="#2f55a6" stroke="none" stroke-width="1" opacity="1"/><polygon points="81.0,44.0 96.0,44.0 111.0,28.0 96.0,28.0" fill="#2f55a6" stroke="none" stroke-width="1" opacity="1"/><polygon points="101.0,44.0 116.0,44.0 131.0,28.0 116.0,28.0" fill="#2f55a6" stroke="none" stroke-width="1" opacity="1"/><polyline points="170.5,21.0 1363.0,21.0" fill="none" stroke="#2f55a6" stroke-width="2.2" opacity="1"/><polyline points="170.5,21.0 127.0,64.0 41.0,64.0" fill="none" stroke="#2f55a6" stroke-width="2.2" opacity="1"/><polygon points="201.0,60.0 194.5,56.2 194.5,48.8 201.0,45.0 207.5,48.8 207.5,56.2" fill="#2f55a6" stroke="none" stroke-width="1" opacity="1"/><polyline points="193.0,52.5 155.5,52.5 143.0,66.0" fill="none" stroke="#2f55a6" stroke-width="1.6" opacity="1"/><defs><linearGradient id="pgl" x1="0" y1="0" x2="0" y2="1"><stop offset="0" stop-color="#2a55c8" stop-opacity=".75"/><stop offset="1" stop-color="#0b2060" stop-opacity=".3"/></linearGradient></defs><polygon points="230.0,38.5 365.0,38.5 350.0,66.0 212.0,66.0" fill="url(#pgl)" stroke="#4a78d8" stroke-width="1.2" opacity="1"/><polygon points="380.0,40.0 527.0,40.0 513.0,66.0 366.0,66.0" fill="none" stroke="#2c4c94" stroke-width="1.2" opacity="1"/><polygon points="543.0,40.0 690.0,40.0 673.0,66.0 529.0,66.0" fill="none" stroke="#2c4c94" stroke-width="1.2" opacity="1"/><polygon points="708.0,27.0 1277.0,27.0 1249.0,66.0 682.0,66.0" fill="none" stroke="#2f519a" stroke-width="1.2" opacity="1"/><polyline points="1280.0,66.0 1295.0,39.0 1363.0,39.0" fill="none" stroke="#2f519a" stroke-width="1.2" opacity="1"/><polyline points="1300.0,65.5 1350.0,65.5 1363.0,39.0" fill="none" stroke="#2f519a" stroke-width="1.2" opacity="1"/><polyline points="1300.0,114.5 1363.0,114.5" fill="none" stroke="#2f519a" stroke-width="1" opacity="0.7"/><circle cx="25" cy="76" r="11" fill="none" stroke="#2f55a6" stroke-width="2"/><circle cx="25" cy="76" r="5" fill="#2f55a6"/><polyline points="36.0,76.0 53.0,76.0" fill="none" stroke="#2f55a6" stroke-width="2" opacity="1"/><polyline points="40.0,63.5 53.0,63.5" fill="none" stroke="#2f55a6" stroke-width="2" opacity="1"/><polyline points="25.0,87.0 25.0,183.0 11.5,195.0 11.5,414.0 24.0,424.0" fill="none" stroke="#2f55a6" stroke-width="2" opacity="1"/><polygon points="25.0,111.0 29.0,111.0 29.0,161.0 25.0,161.0" fill="#2f55a6" stroke="none" stroke-width="1" opacity="1"/><polygon points="19.0,195.0 25.0,195.0 25.0,370.0 19.0,370.0" fill="#2f55a6" stroke="none" stroke-width="1" opacity="1"/><polygon points="19.0,375.0 25.0,375.0 25.0,380.0 19.0,380.0" fill="#2f55a6" stroke="none" stroke-width="1" opacity="1"/><polygon points="19.0,385.5 25.0,385.5 25.0,390.5 19.0,390.5" fill="#2f55a6" stroke="none" stroke-width="1" opacity="1"/><polygon points="19.0,395.5 25.0,395.5 25.0,400.5 19.0,400.5" fill="#2f55a6" stroke="none" stroke-width="1" opacity="1"/><polygon points="19.0,406.0 25.0,406.0 25.0,411.0 19.0,411.0" fill="#2f55a6" stroke="none" stroke-width="1" opacity="1"/><polyline points="32.0,365.0 32.0,559.0 21.0,569.0 21.0,627.0" fill="none" stroke="#2f55a6" stroke-width="2" opacity="1"/><circle cx="21" cy="632.5" r="5" fill="none" stroke="#2f55a6" stroke-width="2"/><circle cx="28.5" cy="596.4" r="5" fill="none" stroke="#2f55a6" stroke-width="2"/><polyline points="28.5,601.5 28.5,652.0 13.0,667.0 13.0,836.0" fill="none" stroke="#2f55a6" stroke-width="2" opacity="1"/><polyline points="1300.0,688.5 1363.0,688.5" fill="none" stroke="#3a5aa8" stroke-width="1" opacity="0.8"/><polyline points="80.0,774.5 1363.0,774.5" fill="none" stroke="#22406a" stroke-width="2" opacity="0.8"/><polyline points="80.0,774.5 99.0,774.5" fill="none" stroke="#1d7f92" stroke-width="2.5" opacity="1"/><polyline points="528.0,774.5 548.0,774.5" fill="none" stroke="#1d8ea0" stroke-width="2.5" opacity="1"/><polyline points="577.0,773.0 597.0,773.0" fill="none" stroke="#1d8ea0" stroke-width="2.5" opacity="0.8"/><rect x="99" y="664" width="1" height="172" fill="#8a93a8"/><rect x="500" y="716" width="1" height="120" fill="#8a93a8"/><rect x="571" y="716" width="1" height="120" fill="#8a93a8"/><rect x="971" y="716" width="1" height="120" fill="#8a93a8"/><circle cx="300" cy="698" r="99" fill="none" stroke="#27427f" stroke-width="9"/><circle cx="300" cy="698" r="87.5" fill="#a31e2e"/><circle cx="525" cy="814" r="8" fill="none" stroke="#1a3a78" stroke-width="1" opacity=".45"/><rect x="631" y="716" width="1.3" height="115" fill="#d8dce6"/><rect x="627" y="830" width="285" height="1.3" fill="#d8dce6"/><rect x="627" y="718" width="4" height="1.2" fill="#d8dce6"/><line x1="631" y1="718.6" x2="912" y2="718.6" stroke="#d8dce6" stroke-width="1.2" stroke-dasharray="4,4"/><rect x="627" y="774.5" width="4" height="1.2" fill="#d8dce6"/><line x1="631" y1="775.1" x2="912" y2="775.1" stroke="#d8dce6" stroke-width="1.2" stroke-dasharray="4,4"/><line x1="736.5" y1="718" x2="736.5" y2="830" stroke="#d8dce6" stroke-width="1.2" stroke-dasharray="4,4"/><line x1="876.5" y1="718" x2="876.5" y2="830" stroke="#d8dce6" stroke-width="1.2" stroke-dasharray="4,4"/></svg>
<svg style="left:0;top:0" width="1363" height="837"><circle cx="441" cy="126" r="0.6" fill="#2a5ad0" opacity="0.34"/><circle cx="730" cy="306" r="0.6" fill="#2a5ad0" opacity="0.75"/><circle cx="293" cy="72" r="1.2" fill="#2a5ad0" opacity="0.33"/><circle cx="124" cy="355" r="1.8" fill="#2a5ad0" opacity="0.36"/><circle cx="304" cy="525" r="0.6" fill="#2a5ad0" opacity="0.59"/><circle cx="541" cy="817" r="0.6" fill="#2a5ad0" opacity="0.58"/><circle cx="182" cy="351" r="1.8" fill="#2a5ad0" opacity="0.36"/><circle cx="420" cy="683" r="0.8" fill="#2a5ad0" opacity="0.35"/><circle cx="779" cy="157" r="0.6" fill="#2a5ad0" opacity="0.57"/><circle cx="86" cy="50" r="0.8" fill="#2a5ad0" opacity="0.55"/><circle cx="725" cy="651" r="1.2" fill="#2a5ad0" opacity="0.59"/><circle cx="618" cy="251" r="0.8" fill="#2a5ad0" opacity="0.65"/><circle cx="333" cy="481" r="1.8" fill="#2a5ad0" opacity="0.55"/><circle cx="468" cy="376" r="1.8" fill="#2a5ad0" opacity="0.79"/><circle cx="161" cy="350" r="1" fill="#2a5ad0" opacity="0.38"/><circle cx="666" cy="33" r="0.6" fill="#2a5ad0" opacity="0.68"/><circle cx="781" cy="733" r="1" fill="#2a5ad0" opacity="0.47"/><circle cx="477" cy="416" r="1.2" fill="#2a5ad0" opacity="0.33"/><circle cx="128" cy="226" r="0.6" fill="#2a5ad0" opacity="0.33"/><circle cx="956" cy="542" r="1.2" fill="#2a5ad0" opacity="0.44"/><circle cx="526" cy="560" r="0.6" fill="#2a5ad0" opacity="0.77"/><circle cx="484" cy="511" r="1.2" fill="#2a5ad0" opacity="0.33"/><circle cx="1047" cy="108" r="0.8" fill="#2a5ad0" opacity="0.50"/><circle cx="1250" cy="416" r="0.8" fill="#2a5ad0" opacity="0.52"/><circle cx="749" cy="739" r="1.2" fill="#2a5ad0" opacity="0.73"/><circle cx="379" cy="348" r="1" fill="#2a5ad0" opacity="0.64"/><circle cx="519" cy="193" r="0.6" fill="#2a5ad0" opacity="0.39"/><circle cx="316" cy="195" r="1.2" fill="#2a5ad0" opacity="0.72"/><circle cx="249" cy="236" r="0.8" fill="#2a5ad0" opacity="0.51"/><circle cx="503" cy="474" r="0.8" fill="#2a5ad0" opacity="0.65"/><circle cx="703" cy="517" r="0.6" fill="#2a5ad0" opacity="0.53"/><circle cx="1187" cy="797" r="1.8" fill="#2a5ad0" opacity="0.50"/><circle cx="544" cy="87" r="1.2" fill="#2a5ad0" opacity="0.33"/><circle cx="92" cy="175" r="0.8" fill="#2a5ad0" opacity="0.35"/><circle cx="819" cy="86" r="1.8" fill="#2a5ad0" opacity="0.38"/><circle cx="138" cy="304" r="0.6" fill="#2a5ad0" opacity="0.34"/><circle cx="283" cy="315" r="1" fill="#2a5ad0" opacity="0.78"/><circle cx="821" cy="397" r="0.6" fill="#2a5ad0" opacity="0.72"/><circle cx="1354" cy="390" r="1.2" fill="#2a5ad0" opacity="0.46"/><circle cx="196" cy="627" r="1" fill="#2a5ad0" opacity="0.54"/><circle cx="943" cy="432" r="0.8" fill="#2a5ad0" opacity="0.78"/><circle cx="720" cy="123" r="1.8" fill="#2a5ad0" opacity="0.76"/><circle cx="1033" cy="250" r="0.6" fill="#2a5ad0" opacity="0.65"/><circle cx="356" cy="307" r="0.8" fill="#2a5ad0" opacity="0.48"/><circle cx="304" cy="453" r="1.8" fill="#2a5ad0" opacity="0.46"/><circle cx="304" cy="679" r="0.8" fill="#2a5ad0" opacity="0.70"/><circle cx="1115" cy="619" r="0.8" fill="#2a5ad0" opacity="0.40"/><circle cx="672" cy="612" r="0.6" fill="#2a5ad0" opacity="0.70"/><circle cx="644" cy="162" r="1.8" fill="#2a5ad0" opacity="0.78"/><circle cx="610" cy="784" r="1" fill="#2a5ad0" opacity="0.78"/><circle cx="497" cy="185" r="0.8" fill="#2a5ad0" opacity="0.54"/><circle cx="460" cy="404" r="1.8" fill="#2a5ad0" opacity="0.72"/><circle cx="654" cy="547" r="0.6" fill="#2a5ad0" opacity="0.72"/><circle cx="163" cy="325" r="0.8" fill="#2a5ad0" opacity="0.54"/><circle cx="243" cy="661" r="1" fill="#2a5ad0" opacity="0.34"/><circle cx="1290" cy="604" r="1.2" fill="#2a5ad0" opacity="0.50"/><circle cx="1290" cy="607" r="0.8" fill="#2a5ad0" opacity="0.80"/><circle cx="38" cy="495" r="1.2" fill="#2a5ad0" opacity="0.70"/><circle cx="199" cy="692" r="1.2" fill="#2a5ad0" opacity="0.63"/><circle cx="478" cy="459" r="0.8" fill="#2a5ad0" opacity="0.31"/><circle cx="1090" cy="608" r="0.6" fill="#2a5ad0" opacity="0.56"/><circle cx="1273" cy="363" r="0.8" fill="#2a5ad0" opacity="0.71"/><circle cx="288" cy="211" r="1" fill="#2a5ad0" opacity="0.55"/><circle cx="1041" cy="273" r="1.8" fill="#2a5ad0" opacity="0.51"/><circle cx="179" cy="762" r="1" fill="#2a5ad0" opacity="0.75"/><circle cx="903" cy="682" r="1.8" fill="#2a5ad0" opacity="0.51"/><circle cx="1251" cy="420" r="1.8" fill="#2a5ad0" opacity="0.38"/><circle cx="696" cy="731" r="0.8" fill="#2a5ad0" opacity="0.60"/><circle cx="1058" cy="125" r="0.8" fill="#2a5ad0" opacity="0.54"/><circle cx="988" cy="466" r="1" fill="#2a5ad0" opacity="0.64"/><circle cx="723" cy="404" r="0.6" fill="#2a5ad0" opacity="0.74"/><circle cx="77" cy="160" r="0.6" fill="#2a5ad0" opacity="0.69"/><circle cx="692" cy="470" r="0.6" fill="#2a5ad0" opacity="0.52"/><circle cx="835" cy="423" r="1.8" fill="#2a5ad0" opacity="0.40"/><circle cx="378" cy="425" r="1.2" fill="#2a5ad0" opacity="0.55"/><circle cx="338" cy="438" r="1" fill="#2a5ad0" opacity="0.76"/><circle cx="1217" cy="170" r="1.2" fill="#2a5ad0" opacity="0.37"/><circle cx="166" cy="370" r="0.6" fill="#2a5ad0" opacity="0.64"/><circle cx="584" cy="178" r="1" fill="#2a5ad0" opacity="0.69"/><circle cx="1223" cy="129" r="1" fill="#2a5ad0" opacity="0.37"/><circle cx="1203" cy="810" r="0.8" fill="#2a5ad0" opacity="0.67"/><circle cx="128" cy="741" r="0.8" fill="#2a5ad0" opacity="0.79"/><circle cx="1135" cy="135" r="1.2" fill="#2a5ad0" opacity="0.80"/><circle cx="550" cy="353" r="1" fill="#2a5ad0" opacity="0.46"/><circle cx="984" cy="16" r="1.8" fill="#2a5ad0" opacity="0.53"/><circle cx="958" cy="322" r="1.8" fill="#2a5ad0" opacity="0.61"/><circle cx="698" cy="54" r="0.8" fill="#2a5ad0" opacity="0.79"/><circle cx="143" cy="222" r="0.6" fill="#2a5ad0" opacity="0.75"/><circle cx="247" cy="633" r="1.2" fill="#2a5ad0" opacity="0.72"/><circle cx="921" cy="792" r="1.2" fill="#2a5ad0" opacity="0.37"/><circle cx="1253" cy="478" r="1" fill="#2a5ad0" opacity="0.34"/><circle cx="78" cy="576" r="1.2" fill="#2a5ad0" opacity="0.75"/><circle cx="367" cy="14" r="0.6" fill="#2a5ad0" opacity="0.70"/><circle cx="114" cy="717" r="0.6" fill="#2a5ad0" opacity="0.43"/><circle cx="166" cy="10" r="1.8" fill="#2a5ad0" opacity="0.51"/><circle cx="1248" cy="520" r="0.6" fill="#2a5ad0" opacity="0.56"/><circle cx="325" cy="92" r="0.8" fill="#2a5ad0" opacity="0.43"/><circle cx="247" cy="780" r="1" fill="#2a5ad0" opacity="0.57"/><circle cx="281" cy="373" r="0.8" fill="#2a5ad0" opacity="0.44"/><circle cx="1095" cy="832" r="0.6" fill="#2a5ad0" opacity="0.31"/><circle cx="999" cy="461" r="0.8" fill="#2a5ad0" opacity="0.56"/><circle cx="335" cy="374" r="1.2" fill="#2a5ad0" opacity="0.63"/><circle cx="744" cy="744" r="1.8" fill="#2a5ad0" opacity="0.45"/><circle cx="293" cy="192" r="0.8" fill="#2a5ad0" opacity="0.72"/><circle cx="963" cy="532" r="1.2" fill="#2a5ad0" opacity="0.79"/><circle cx="1338" cy="701" r="0.6" fill="#2a5ad0" opacity="0.34"/><circle cx="1010" cy="214" r="0.8" fill="#2a5ad0" opacity="0.33"/><circle cx="907" cy="319" r="1.8" fill="#2a5ad0" opacity="0.64"/><circle cx="384" cy="203" r="1" fill="#2a5ad0" opacity="0.32"/><circle cx="253" cy="225" r="0.6" fill="#2a5ad0" opacity="0.43"/><circle cx="1311" cy="814" r="1.8" fill="#2a5ad0" opacity="0.46"/><circle cx="47" cy="739" r="0.8" fill="#2a5ad0" opacity="0.48"/><circle cx="1" cy="319" r="1.2" fill="#2a5ad0" opacity="0.44"/><circle cx="894" cy="208" r="0.6" fill="#2a5ad0" opacity="0.35"/><circle cx="1114" cy="120" r="1.8" fill="#2a5ad0" opacity="0.32"/><circle cx="31" cy="255" r="0.8" fill="#2a5ad0" opacity="0.34"/><circle cx="1305" cy="714" r="0.8" fill="#2a5ad0" opacity="0.63"/><circle cx="976" cy="736" r="1.2" fill="#2a5ad0" opacity="0.68"/><circle cx="982" cy="414" r="1" fill="#2a5ad0" opacity="0.66"/><circle cx="877" cy="37" r="1.8" fill="#2a5ad0" opacity="0.61"/><circle cx="1000" cy="680" r="0.8" fill="#2a5ad0" opacity="0.75"/><circle cx="1026" cy="476" r="0.6" fill="#2a5ad0" opacity="0.71"/><circle cx="796" cy="747" r="0.8" fill="#2a5ad0" opacity="0.34"/><circle cx="57" cy="533" r="0.6" fill="#2a5ad0" opacity="0.49"/><circle cx="615" cy="43" r="0.6" fill="#2a5ad0" opacity="0.61"/><circle cx="928" cy="410" r="0.6" fill="#2a5ad0" opacity="0.53"/><circle cx="96" cy="781" r="1.8" fill="#2a5ad0" opacity="0.35"/><circle cx="717" cy="624" r="1.2" fill="#2a5ad0" opacity="0.43"/><circle cx="101" cy="222" r="0.8" fill="#2a5ad0" opacity="0.42"/><circle cx="886" cy="385" r="1.2" fill="#2a5ad0" opacity="0.34"/><circle cx="1241" cy="240" r="0.6" fill="#2a5ad0" opacity="0.61"/><circle cx="876" cy="65" r="0.8" fill="#2a5ad0" opacity="0.47"/><circle cx="888" cy="580" r="1.8" fill="#2a5ad0" opacity="0.58"/><circle cx="17" cy="51" r="1" fill="#2a5ad0" opacity="0.79"/><circle cx="136" cy="182" r="1.2" fill="#2a5ad0" opacity="0.45"/><circle cx="704" cy="389" r="1.2" fill="#2a5ad0" opacity="0.68"/><circle cx="1354" cy="460" r="1" fill="#2a5ad0" opacity="0.79"/><circle cx="1276" cy="15" r="1.2" fill="#2a5ad0" opacity="0.34"/><circle cx="691" cy="832" r="1" fill="#2a5ad0" opacity="0.49"/><circle cx="1249" cy="779" r="0.6" fill="#2a5ad0" opacity="0.59"/><circle cx="193" cy="439" r="1" fill="#2a5ad0" opacity="0.37"/><circle cx="1118" cy="426" r="0.6" fill="#2a5ad0" opacity="0.65"/><circle cx="315" cy="751" r="1.2" fill="#2a5ad0" opacity="0.50"/><circle cx="217" cy="795" r="1.2" fill="#2a5ad0" opacity="0.50"/><circle cx="991" cy="348" r="1.2" fill="#2a5ad0" opacity="0.46"/><circle cx="1145" cy="1" r="1" fill="#2a5ad0" opacity="0.72"/><circle cx="164" cy="775" r="0.6" fill="#2a5ad0" opacity="0.75"/><circle cx="395" cy="312" r="1.2" fill="#2a5ad0" opacity="0.50"/><circle cx="1186" cy="64" r="1.2" fill="#2a5ad0" opacity="0.68"/><circle cx="1164" cy="235" r="0.6" fill="#2a5ad0" opacity="0.72"/><circle cx="389" cy="783" r="0.8" fill="#2a5ad0" opacity="0.79"/><circle cx="595" cy="264" r="1" fill="#2a5ad0" opacity="0.69"/><circle cx="583" cy="24" r="1.2" fill="#2a5ad0" opacity="0.76"/><circle cx="1282" cy="460" r="0.6" fill="#2a5ad0" opacity="0.32"/><circle cx="998" cy="377" r="0.8" fill="#2a5ad0" opacity="0.62"/><circle cx="390" cy="41" r="1.8" fill="#2a5ad0" opacity="0.36"/><circle cx="644" cy="288" r="1" fill="#2a5ad0" opacity="0.43"/><circle cx="1007" cy="546" r="1.2" fill="#2a5ad0" opacity="0.63"/><circle cx="410" cy="466" r="1.2" fill="#2a5ad0" opacity="0.36"/><circle cx="877" cy="63" r="1.8" fill="#2a5ad0" opacity="0.75"/></svg>
<div class="t" style="left:609px;top:715px;font-size:13px;font-weight:bold;color:#c9cdd8;line-height:16px">40</div>
<div class="t" style="left:609px;top:771px;font-size:13px;font-weight:bold;color:#c9cdd8;line-height:16px">20</div>
<div class="t" style="left:616px;top:827px;font-size:13px;font-weight:bold;color:#c9cdd8;line-height:16px">0</div>
<div class="t" style="left:892px;top:35px;font-size:24.8px;color:#bfc8da;line-height:28px;-webkit-text-stroke:0.5px #bfc8da">统计数据管理与挖掘分析平台</div>
<div class="a" style="left:744px;top:37px;width:144px;height:30px;background:linear-gradient(180deg,rgba(110,130,175,.3),rgba(160,175,210,.6));filter:blur(3.5px)"></div>
<div class="t" style="left:742px;top:35px;font-size:25px;font-weight:bold;color:#c0cce0;line-height:28px;filter:blur(3.5px);opacity:.6">成都市锦江区</div>
<div class="a" style="left:467px;top:40px;width:30px;height:26px;background:rgba(60,66,80,.6)"></div>
<svg style="left:474px;top:45px" width="16" height="16" viewBox="0 0 18 18"><path d="M7.6 0h2.8l.4 2.4 1.6.7 2-1.4 2 2-1.4 2 .7 1.6 2.3.4v2.8l-2.3.4-.7 1.6 1.4 2-2 2-2-1.4-1.6.7-.4 2.3H7.6l-.4-2.3-1.6-.7-2 1.4-2-2 1.4-2-.7-1.6L0 10.4V7.6l2.3-.4.7-1.6-1.4-2 2-2 2 1.4 1.6-.7z M9 5.8a3.2 3.2 0 1 0 0 6.4a3.2 3.2 0 1 0 0-6.4z" fill="#c8c8c8" fill-rule="evenodd"/></svg>
</div>
<div class="a" style="left:327px;top:162px;width:1250px;height:650px;background:#fff;box-shadow:0 0 11px 2px rgba(232,238,248,.95)"></div>
<div class="a" style="left:327px;top:162px;width:1250px;height:40px;background:#f44e5b;"></div>
<div class="t" style="left:342px;top:170.5px;height:22px;line-height:22px;font-size:18px;color:#fff;">模型设置</div>
<svg style="left:1544px;top:174px" width="16" height="16" viewBox="0 0 16 16"><path d="M1.5 1.5l13 13 M14.5 1.5l-13 13" stroke="#fff" stroke-width="3.2"/></svg>
<div class="a" style="left:327px;top:202px;width:1250px;height:39px;background:#e3e6e9;"></div>
<div class="a" style="left:327px;top:241px;width:1250px;height:1px;background:#d5d8db;"></div>
<div class="a" style="left:327px;top:202px;width:90px;height:39px;background:#f8f8f8;"></div>
<div class="t" style="left:342px;top:212.5px;height:18px;line-height:18px;font-size:14px;color:#555;">度量/维度</div>
<div class="t" style="left:436px;top:212.5px;height:18px;line-height:18px;font-size:14px;color:#555;">条件设置</div>
<div class="t" style="left:526px;top:212.5px;height:18px;line-height:18px;font-size:14px;color:#555;">维度映射</div>
<div class="a" style="left:1006px;top:242px;width:1px;height:520px;background:#dddddd;"></div>
<div class="t" style="left:352px;top:303.5px;height:22px;line-height:22px;font-size:18px;color:#333;">我是标题</div>
<div class="t" style="left:352px;top:331.5px;height:16px;line-height:16px;font-size:12px;color:#aaa;">我是副标题</div>
<div class="a" style="left:378px;top:351px;width:25px;height:14px;background:#d62335;border-radius:3px"></div>
<div class="t" style="left:408px;top:350.5px;height:16px;line-height:16px;font-size:12px;color:#333;">双桂路</div>
<div class="a" style="left:453.5px;top:351px;width:25px;height:14px;background:#79a04a;border-radius:3px"></div>
<div class="t" style="left:483.5px;top:350.5px;height:16px;line-height:16px;font-size:12px;color:#333;">成龙路</div>
<div class="a" style="left:529.5px;top:351px;width:25px;height:14px;background:#5f5aa2;border-radius:3px"></div>
<div class="t" style="left:559.5px;top:350.5px;height:16px;line-height:16px;font-size:12px;color:#333;">沙河</div>
<div class="a" style="left:594px;top:351px;width:25px;height:14px;background:#cf775c;border-radius:3px"></div>
<div class="t" style="left:624px;top:350.5px;height:16px;line-height:16px;font-size:12px;color:#333;">水井坊</div>
<div class="a" style="left:669.5px;top:351px;width:25px;height:14px;background:#88c1a3;border-radius:3px"></div>
<div class="t" style="left:699.5px;top:350.5px;height:16px;line-height:16px;font-size:12px;color:#333;">书院街</div>
<div class="a" style="left:746px;top:351px;width:25px;height:14px;background:#6c987b;border-radius:3px"></div>
<div class="t" style="left:776px;top:350.5px;height:16px;line-height:16px;font-size:12px;color:#333;">东光</div>
<div class="a" style="left:810px;top:351px;width:25px;height:14px;background:#c47b2c;border-radius:3px"></div>
<div class="t" style="left:840px;top:350.5px;height:16px;line-height:16px;font-size:12px;color:#333;">柳江</div>
<div class="a" style="left:874px;top:351px;width:25px;height:14px;background:#b69992;border-radius:3px"></div>
<div class="a" style="left:904px;top:348px;width:19px;height:20px;background:#fff"></div>
<div class="t" style="left:904px;top:350.5px;height:16px;line-height:16px;font-size:12px;color:#333;width:18px;overflow:hidden">督院</div>
<svg style="left:931px;top:351px" width="52" height="15" viewBox="0 0 52 15"><path d="M10 0v14L1 7z" fill="#aaa"/><path d="M41 0v14l9-7z" fill="#2f4554"/></svg>
<div class="t" style="left:947.5px;top:350.0px;height:17px;line-height:17px;font-size:13px;color:#333;">1/2</div>
<svg style="left:790px;top:309px" width="17" height="16" viewBox="0 0 17 16"><path d="M7.5 0v11 M3 7l4.5 4.5L12 7 M1 9v5.5h13V9" fill="none" stroke="#a6a6a6" stroke-width="1.2"/></svg>
<svg style="left:818px;top:309px" width="17" height="16" viewBox="0 0 17 16"><path d="M0 8h3l2-7 2.5 10 2-6 1.5 3h5 M1 14.5h14" fill="none" stroke="#a6a6a6" stroke-width="1.2"/></svg>
<svg style="left:848px;top:309px" width="17" height="16" viewBox="0 0 17 16"><path d="M1 14.5h14 M2 7h3v6H2z M6.5 4.5h3V13h-3z M11 1h3v12h-3z" fill="none" stroke="#a6a6a6" stroke-width="1.1"/></svg>
<svg style="left:877px;top:309px" width="17" height="16" viewBox="0 0 17 16"><path d="M8 1.2l7.3 3.8L8 8.8.7 5z" fill="#f2f2f2" stroke="#a6a6a6" stroke-width="1.1"/><path d="M.7 6.8l7.3 3.8 7.3-3.8 M.7 8.8l7.3 3.8 7.3-3.8 M.7 10.8l7.3 3.8 7.3-3.8" fill="none" stroke="#a6a6a6" stroke-width="1"/></svg>
<svg style="left:907px;top:309px" width="17" height="16" viewBox="0 0 17 16"><path d="M1 1h6v6H1z M10 1h6v6h-6z M1 10h6v6H1z M10 10h6v6h-6z" fill="none" stroke="#a6a6a6" stroke-width="1.3"/></svg>
<svg style="left:937px;top:309px" width="17" height="16" viewBox="0 0 17 16"><path d="M1 .6h7.5l3.5 3.5v11.3H1z M3 5.5h7 M3 8.5h7 M3 11.5h7 M8.5 .6v3.5H12" fill="none" stroke="#a6a6a6" stroke-width="1.1"/></svg>
<svg style="left:962px;top:309px" width="17" height="16" viewBox="0 0 17 16"><path d="M16 8.5A7.6 7.6 0 0 0 2.6 4 M1 8A7.6 7.6 0 0 0 14.4 12.2 M15.2 1.5v3.6h-3.6 M1.8 15v-3.6h3.6" fill="none" stroke="#a6a6a6" stroke-width="1.15"/></svg>
<svg style="left:0;top:0" width="1913" height="952"><path d="M667.35,570.1 L803.15,570.10 A135.8,135.8 0 0 1 802.69,581.31 Z" fill="#d62335" stroke="#d62335" stroke-width="0.3"/><path d="M667.35,570.1 L802.69,581.31 A135.8,135.8 0 0 1 801.30,592.45 Z" fill="#79a04a" stroke="#79a04a" stroke-width="0.3"/><path d="M667.35,570.1 L801.30,592.45 A135.8,135.8 0 0 1 798.99,603.44 Z" fill="#5f5aa2" stroke="#5f5aa2" stroke-width="0.3"/><path d="M667.35,570.1 L798.99,603.44 A135.8,135.8 0 0 1 750.76,677.27 Z" fill="#cf775c" stroke="#cf775c" stroke-width="0.3"/><path d="M667.35,570.1 L750.76,677.27 A135.8,135.8 0 0 1 711.44,698.54 Z" fill="#88c1a3" stroke="#88c1a3" stroke-width="0.3"/><path d="M667.35,570.1 L711.44,698.54 A135.8,135.8 0 0 1 678.56,705.44 Z" fill="#6c987b" stroke="#6c987b" stroke-width="0.3"/><path d="M667.35,570.1 L678.56,705.44 A135.8,135.8 0 0 1 567.44,662.07 Z" fill="#c47b2c" stroke="#c47b2c" stroke-width="0.3"/><path d="M667.35,570.1 L567.44,662.07 A135.8,135.8 0 0 1 533.40,592.45 Z" fill="#b69992" stroke="#b69992" stroke-width="0.3"/><path d="M667.35,570.1 L533.40,592.45 A135.8,135.8 0 0 1 575.38,470.19 Z" fill="#646468" stroke="#646468" stroke-width="0.3"/><path d="M667.35,570.1 L575.38,470.19 A135.8,135.8 0 0 1 721.90,445.74 Z" fill="#485864" stroke="#485864" stroke-width="0.3"/><path d="M667.35,570.1 L721.90,445.74 A135.8,135.8 0 0 1 741.63,456.41 Z" fill="#bfcfc2" stroke="#bfcfc2" stroke-width="0.3"/><path d="M667.35,570.1 L741.63,456.41 A135.8,135.8 0 0 1 759.32,470.19 Z" fill="#d47072" stroke="#d47072" stroke-width="0.3"/><path d="M667.35,570.1 L759.32,470.19 A135.8,135.8 0 0 1 774.52,486.69 Z" fill="#8a9683" stroke="#8a9683" stroke-width="0.3"/><path d="M667.35,570.1 L774.52,486.69 A135.8,135.8 0 0 1 803.15,570.10 Z" fill="#d4a27b" stroke="#d4a27b" stroke-width="0.3"/><polyline points="804.0,575.8 814.3,576.3 829.3,576.3" fill="none" stroke="#dcdcdc" stroke-width="1"/><polyline points="803.1,587.0 813.5,588.8 828.5,588.8" fill="none" stroke="#dcdcdc" stroke-width="1"/><polyline points="801.2,598.2 811.5,601.3 826.5,601.3" fill="none" stroke="#dcdcdc" stroke-width="1"/><polyline points="781.9,644.9 792.2,652.6 807.2,652.6" fill="none" stroke="#dcdcdc" stroke-width="1"/><polyline points="732.5,690.4 748.3,702.6 763.3,702.6" fill="none" stroke="#dcdcdc" stroke-width="1"/><polyline points="695.4,704.0 723.3,717.8 738.3,717.8" fill="none" stroke="#dcdcdc" stroke-width="1"/><polyline points="617.6,697.5 596.5,711.5 581.5,711.5" fill="none" stroke="#dcdcdc" stroke-width="1"/><polyline points="544.5,630.2 532.1,636.5 517.1,636.5" fill="none" stroke="#dcdcdc" stroke-width="1"/><polyline points="538.0,525.7 525.5,520.5 510.5,520.5" fill="none" stroke="#dcdcdc" stroke-width="1"/><polyline points="644.8,435.2 610.5,420.6 595.5,420.6" fill="none" stroke="#dcdcdc" stroke-width="1"/><polyline points="732.5,449.8 747.7,436.5 762.7,436.5" fill="none" stroke="#dcdcdc" stroke-width="1"/><polyline points="751.4,462.1 763.5,450.8 778.5,450.8" fill="none" stroke="#dcdcdc" stroke-width="1"/><polyline points="768.0,477.4 779.2,467.4 794.2,467.4" fill="none" stroke="#dcdcdc" stroke-width="1"/><polyline points="796.7,525.7 807.5,520.5 822.5,520.5" fill="none" stroke="#dcdcdc" stroke-width="1"/></svg>
<div class="t" style="left:832.8px;top:567.5px;height:16px;line-height:16px;font-size:12px;color:#333;">双桂路</div>
<div class="t" style="left:832px;top:580.0px;height:16px;line-height:16px;font-size:12px;color:#333;">成龙路</div>
<div class="t" style="left:830px;top:592.5px;height:16px;line-height:16px;font-size:12px;color:#333;">沙河</div>
<div class="t" style="left:810.7px;top:643.8px;height:16px;line-height:16px;font-size:12px;color:#333;">水井坊</div>
<div class="t" style="left:766.8px;top:693.8px;height:16px;line-height:16px;font-size:12px;color:#333;">书院街</div>
<div class="t" style="left:741.8px;top:709.0px;height:16px;line-height:16px;font-size:12px;color:#333;">东光</div>
<div class="t" style="left:554px;top:702.7px;height:16px;line-height:16px;font-size:12px;color:#333;">柳江</div>
<div class="t" style="left:477.6px;top:627.7px;height:16px;line-height:16px;font-size:12px;color:#333;">督院街</div>
<div class="t" style="left:471px;top:511.7px;height:16px;line-height:16px;font-size:12px;color:#333;">春熙路</div>
<div class="t" style="left:556px;top:411.8px;height:16px;line-height:16px;font-size:12px;color:#333;">盐市口</div>
<div class="t" style="left:766.2px;top:427.7px;height:16px;line-height:16px;font-size:12px;color:#333;">狮子山</div>
<div class="t" style="left:782px;top:442.0px;height:16px;line-height:16px;font-size:12px;color:#333;">莲新</div>
<div class="t" style="left:797.7px;top:458.6px;height:16px;line-height:16px;font-size:12px;color:#333;">牛市口</div>
<div class="t" style="left:826px;top:511.7px;height:16px;line-height:16px;font-size:12px;color:#333;">合江亭</div>
<div class="a" style="left:1007px;top:242px;width:285px;height:44px;background:#e0e0e0;"></div>
<div class="t" style="left:1049.5px;top:254.5px;width:200px;text-align:center;height:18px;line-height:18px;font-size:14px;color:#333;">数据配置</div>
<div class="t" style="left:1334.0px;top:254.5px;width:200px;text-align:center;height:18px;line-height:18px;font-size:14px;color:#f44e5b;">样式设置</div>
<div class="t" style="left:1021px;top:293.5px;height:18px;line-height:18px;font-size:14px;color:#bbb;">基础</div>
<div class="t" style="left:1077px;top:293.5px;height:18px;line-height:18px;font-size:14px;color:#bbb;">度量</div>
<div class="t" style="left:1133px;top:293.5px;height:18px;line-height:18px;font-size:14px;color:#bbb;">图例</div>
<div class="t" style="left:1189px;top:293.5px;height:18px;line-height:18px;font-size:14px;color:#bbb;">grid</div>
<div class="t" style="left:1240px;top:293.5px;height:18px;line-height:18px;font-size:14px;color:#bbb;">工具</div>
<div class="t" style="left:1296px;top:293.5px;height:18px;line-height:18px;font-size:14px;color:#bbb;">提示框</div>
<div class="a" style="left:1007px;top:321px;width:553px;height:441px;overflow:hidden">
<div class="t" style="left:30px;top:-7.5px;height:16px;line-height:16px;font-size:12px;color:#333;">三段线</div>
<div class="a" style="left:123px;top:-13px;width:108px;height:27px;border:1px solid #c9c9c9;border-radius:4px;background:#fff;font-size:12px;line-height:26px;color:#555;padding-left:15px">15</div>
<div class="t" style="left:269px;top:-7.5px;height:16px;line-height:16px;font-size:12px;color:#333;">引导线颜色</div>
<div class="a" style="left:362px;top:-13px;width:19px;height:27px;border:1px solid #c9c9c9;border-radius:5px;background:#fff"></div>
<div class="a" style="left:367px;top:-6px;width:9px;height:13px;background:#fff;border:1px solid #999"></div>
<div class="a" style="left:382px;top:-13px;width:88px;height:27px;border:1px solid #c9c9c9;border-radius:5px;background:#fff;font-size:12px;line-height:26px;color:#333;padding-left:9px">#eeeeee</div>
<div class="t" style="left:30px;top:32.5px;height:16px;line-height:16px;font-size:12px;color:#333;">引导线宽度</div>
<div class="a" style="left:123px;top:27px;width:108px;height:27px;border:1px solid #c9c9c9;border-radius:4px;background:#fff;font-size:12px;line-height:26px;color:#555;padding-left:15px">1</div>
<div class="t" style="left:269px;top:32.5px;height:16px;line-height:16px;font-size:12px;color:#333;">引导线类型</div>
<div class="a" style="left:362px;top:27px;width:108px;height:27px;border:1px solid #c9c9c9;border-radius:4px;background:#fff;font-size:13px;line-height:27px;color:#333;padding-left:10px">实线<svg style="left:95px;top:10px" width="7" height="7" viewBox="0 0 7 7"><path d="M0 .5h6.5L3.25 6.5z" fill="#111"/></svg></div>
<div class="t" style="left:30px;top:72.5px;height:16px;line-height:16px;font-size:12px;color:#333;">引导线透明度</div>
<div class="a" style="left:123px;top:67px;width:108px;height:27px;border:1px solid #c9c9c9;border-radius:4px;background:#fff;font-size:12px;line-height:26px;color:#555;padding-left:15px">1</div>
<div class="t" style="left:269px;top:72.5px;height:16px;line-height:16px;font-size:12px;color:#333;">显示标签</div>
<svg style="left:362px;top:73px" width="18" height="18" viewBox="0 0 17.5 17.5"><defs><linearGradient id="cbg" x1="0" y1="0" x2="0" y2="1"><stop offset="0" stop-color="#ececec"/><stop offset="1" stop-color="#d8d8d8"/></linearGradient></defs><rect x="0.6" y="0.6" width="16.3" height="16.3" rx="2.5" fill="url(#cbg)" stroke="#a4a4a4" stroke-width="1.1"/><path d="M2.8 10.2L5.2 8 7.3 9.9 12.4 3.5 14.6 5.4 7.4 14.2z" fill="#3a3a3a"/></svg>
<div class="t" style="left:30px;top:112.5px;height:16px;line-height:16px;font-size:12px;color:#333;">标签位置</div>
<div class="a" style="left:123px;top:107px;width:108px;height:27px;border:1px solid #c9c9c9;border-radius:4px;background:#fff;font-size:13px;line-height:27px;color:#333;padding-left:10px">外侧<svg style="left:95px;top:10px" width="7" height="7" viewBox="0 0 7 7"><path d="M0 .5h6.5L3.25 6.5z" fill="#111"/></svg></div>
<div class="t" style="left:269px;top:112.5px;height:16px;line-height:16px;font-size:12px;color:#333;">标签颜色</div>
<div class="a" style="left:362px;top:107px;width:19px;height:27px;border:1px solid #c9c9c9;border-radius:5px;background:#fff"></div>
<div class="a" style="left:367px;top:114px;width:9px;height:13px;background:#000;border:1px solid #999"></div>
<div class="a" style="left:382px;top:107px;width:88px;height:27px;border:1px solid #c9c9c9;border-radius:5px;background:#fff;font-size:12px;line-height:26px;color:#333;padding-left:9px"></div>
<div class="t" style="left:30px;top:152.5px;height:16px;line-height:16px;font-size:12px;color:#333;">标签字体大小</div>
<div class="a" style="left:123px;top:147px;width:108px;height:27px;border:1px solid #c9c9c9;border-radius:4px;background:#fff;font-size:12px;line-height:26px;color:#555;padding-left:15px">12</div>
<div class="t" style="left:269px;top:152.5px;height:16px;line-height:16px;font-size:12px;color:#333;">标签字体粗细</div>
<div class="a" style="left:362px;top:147px;width:108px;height:27px;border:1px solid #c9c9c9;border-radius:4px;background:#fff;font-size:13px;line-height:27px;color:#333;padding-left:10px">标准<svg style="left:95px;top:10px" width="7" height="7" viewBox="0 0 7 7"><path d="M0 .5h6.5L3.25 6.5z" fill="#111"/></svg></div>
<div class="t" style="left:30px;top:192.5px;height:16px;line-height:16px;font-size:12px;color:#333;">标签字体样式</div>
<div class="a" style="left:123px;top:187px;width:108px;height:27px;border:1px solid #c9c9c9;border-radius:4px;background:#fff;font-size:13px;line-height:27px;color:#333;padding-left:10px">标准<svg style="left:95px;top:10px" width="7" height="7" viewBox="0 0 7 7"><path d="M0 .5h6.5L3.25 6.5z" fill="#111"/></svg></div>
<div class="t" style="left:269px;top:192.5px;height:16px;line-height:16px;font-size:12px;color:#333;">自定义模板</div>
<div class="a" style="left:362px;top:187px;width:108px;height:27px;border:1px solid #c9c9c9;border-radius:4px;background:#fff;font-size:12px;line-height:26px;color:#555;padding-left:15px"></div>
<div class="t" style="left:30px;top:232.5px;height:16px;line-height:16px;font-size:12px;color:#333;">重置模板</div>
<svg style="left:123px;top:233px" width="18" height="18" viewBox="0 0 17.5 17.5"><defs><linearGradient id="cbg" x1="0" y1="0" x2="0" y2="1"><stop offset="0" stop-color="#ececec"/><stop offset="1" stop-color="#d8d8d8"/></linearGradient></defs><rect x="0.6" y="0.6" width="16.3" height="16.3" rx="2.5" fill="url(#cbg)" stroke="#a4a4a4" stroke-width="1.1"/><path d="M2.8 10.2L5.2 8 7.3 9.9 12.4 3.5 14.6 5.4 7.4 14.2z" fill="#3a3a3a"/></svg>
<div class="t" style="left:30px;top:304.5px;height:16px;line-height:16px;font-size:12px;color:#333;">扇区颜色</div>
<div class="a" style="left:123px;top:299px;width:20px;height:27px;border:1px solid #c9c9c9;border-radius:5px;background:#fff"></div>
<div class="a" style="left:128px;top:306px;width:10px;height:13px;background:#d62335;border:1px solid #999"></div>
<div class="a" style="left:144px;top:299px;width:86px;height:27px;border:1px solid #c9c9c9;border-radius:5px;background:#fff;font-size:12px;line-height:26px;color:#333;padding-left:9px">#d62335</div>
<div class="t" style="left:269px;top:304.5px;height:16px;line-height:16px;font-size:12px;color:#333;">扇区透明度</div>
<div class="a" style="left:362px;top:299px;width:108px;height:27px;border:1px solid #c9c9c9;border-radius:4px;background:#fff;font-size:12px;line-height:26px;color:#555;padding-left:15px">1</div>
<div class="t" style="left:30px;top:344.5px;height:16px;line-height:16px;font-size:12px;color:#333;">显示标签</div>
<svg style="left:123px;top:345px" width="18" height="18" viewBox="0 0 17.5 17.5"><defs><linearGradient id="cbg" x1="0" y1="0" x2="0" y2="1"><stop offset="0" stop-color="#ececec"/><stop offset="1" stop-color="#d8d8d8"/></linearGradient></defs><rect x="0.6" y="0.6" width="16.3" height="16.3" rx="2.5" fill="url(#cbg)" stroke="#a4a4a4" stroke-width="1.1"/><path d="M2.8 10.2L5.2 8 7.3 9.9 12.4 3.5 14.6 5.4 7.4 14.2z" fill="#3a3a3a"/></svg>
<div class="t" style="left:269px;top:344.5px;height:16px;line-height:16px;font-size:12px;color:#333;">标签颜色</div>
<div class="a" style="left:362px;top:339px;width:19px;height:27px;border:1px solid #c9c9c9;border-radius:5px;background:#fff"></div>
<div class="a" style="left:367px;top:346px;width:9px;height:13px;background:#000;border:1px solid #999"></div>
<div class="a" style="left:382px;top:339px;width:88px;height:27px;border:1px solid #c9c9c9;border-radius:5px;background:#fff;font-size:12px;line-height:26px;color:#333;padding-left:9px">#000</div>
<div class="t" style="left:30px;top:384.5px;height:16px;line-height:16px;font-size:12px;color:#333;">标签字体大小</div>
<div class="a" style="left:123px;top:379px;width:108px;height:27px;border:1px solid #c9c9c9;border-radius:4px;background:#fff;font-size:12px;line-height:26px;color:#555;padding-left:15px">12</div>
<div class="t" style="left:269px;top:384.5px;height:16px;line-height:16px;font-size:12px;color:#333;">标签位置</div>
<div class="a" style="left:362px;top:379px;width:108px;height:27px;border:1px solid #c9c9c9;border-radius:4px;background:#fff;font-size:13px;line-height:27px;color:#333;padding-left:10px">外侧<svg style="left:95px;top:10px" width="7" height="7" viewBox="0 0 7 7"><path d="M0 .5h6.5L3.25 6.5z" fill="#111"/></svg></div>
<div class="t" style="left:30px;top:424.5px;height:16px;line-height:16px;font-size:12px;color:#333;">标签模板</div>
<div class="a" style="left:123px;top:419px;width:108px;height:27px;border:1px solid #c9c9c9;border-radius:4px;background:#fff;font-size:12px;line-height:26px;color:#555;padding-left:15px"></div>
<div class="t" style="left:269px;top:424.5px;height:16px;line-height:16px;font-size:12px;color:#333;">重置标签模板</div>
<svg style="left:362px;top:425px" width="18" height="18" viewBox="0 0 17.5 17.5"><defs><linearGradient id="cbg" x1="0" y1="0" x2="0" y2="1"><stop offset="0" stop-color="#ececec"/><stop offset="1" stop-color="#d8d8d8"/></linearGradient></defs><rect x="0.6" y="0.6" width="16.3" height="16.3" rx="2.5" fill="url(#cbg)" stroke="#a4a4a4" stroke-width="1.1"/><path d="M2.8 10.2L5.2 8 7.3 9.9 12.4 3.5 14.6 5.4 7.4 14.2z" fill="#3a3a3a"/></svg>
<div class="t" style="left:20px;top:266.5px;height:16px;line-height:16px;font-size:12px;color:#333;font-weight:bold">双桂路</div>
<div class="a" style="left:15px;top:292px;width:523px;height:1px;background:#e5e5e5;"></div>
</div>
<div class="a" style="left:1007px;top:320px;width:550px;height:1px;background:#dddddd;"></div>
<div class="a" style="left:1069px;top:318px;width:44px;height:4px;background:#e0505c;"></div>
<div class="a" style="left:1560px;top:321px;width:17px;height:441px;background:#f0f0f0;"></div>
<div class="a" style="left:1562px;top:351px;width:13px;height:25px;background:#c1c1c1;"></div>
<svg style="left:1560px;top:321px" width="17" height="441"><path d="M4.5 12h8l-4-4.5z M4.5 428h8l-4 4.5z" fill="#505050"/></svg>
<div class="a" style="left:327px;top:762px;width:1250px;height:50px;background:#e3e6e9;"></div>
<div class="a" style="left:875px;top:773px;width:72px;height:28px;background:#f44e5b;border-radius:3px;color:#fff;font-size:12px;line-height:28px;text-align:center">确定</div>
<div class="a" style="left:957px;top:773px;width:72px;height:28px;background:#9e9e9e;border-radius:3px;color:#eee;font-size:12px;line-height:28px;text-align:center">取消</div>
<div class="a" style="left:1657px;top:47px;width:256px;height:905px;background:#444;"></div>
<div class="a" style="left:1657px;top:47px;width:256px;height:30px;background:#2e2e2e;"></div>
<div class="a" style="left:1657px;top:484px;width:8px;height:59px;background:#c55b5b;"></div>
<svg style="left:1657px;top:504px" width="8" height="18" viewBox="0 0 8 18"><path d="M0 2l7 7-7 7z" fill="#ddd"/></svg>
<div class="a" style="left:1657px;top:47px;width:68px;height:30px;background:#444;"></div>
<div class="a" style="left:1725px;top:47px;width:1px;height:30px;background:#5a5a5a;"></div>
<div class="a" style="left:1770px;top:47px;width:1px;height:30px;background:#5a5a5a;"></div>
<div class="a" style="left:1815px;top:47px;width:1px;height:30px;background:#5a5a5a;"></div>
<div class="t" style="left:1667px;top:53.5px;height:16px;line-height:16px;font-size:12px;color:#e0e0e0;">基础信息</div>
<div class="t" style="left:1736px;top:53.5px;height:16px;line-height:16px;font-size:12px;color:#9a9a9a;">事件</div>
<div class="t" style="left:1781px;top:53.5px;height:16px;line-height:16px;font-size:12px;color:#9a9a9a;">高级</div>
<div class="t" style="left:1677px;top:92.5px;height:16px;line-height:16px;font-size:12px;color:#dcdcdc;">组件ID</div>
<div class="t" style="left:1677px;top:130.5px;height:16px;line-height:16px;font-size:12px;color:#dcdcdc;">名称</div>
<div class="t" style="left:1677px;top:168.5px;height:16px;line-height:16px;font-size:12px;color:#dcdcdc;">背景颜色</div>
<div class="t" style="left:1677px;top:206.5px;height:16px;line-height:16px;font-size:12px;color:#dcdcdc;">边框颜色</div>
<div class="t" style="left:1677px;top:244.5px;height:16px;line-height:16px;font-size:12px;color:#dcdcdc;">边框粗细</div>
<div class="t" style="left:1677px;top:282.5px;height:16px;line-height:16px;font-size:12px;color:#dcdcdc;">边框圆角</div>
<div class="t" style="left:1677px;top:320.5px;height:16px;line-height:16px;font-size:12px;color:#dcdcdc;">旋转角度</div>
<div class="t" style="left:1677px;top:358.5px;height:16px;line-height:16px;font-size:12px;color:#dcdcdc;">Tips</div>
<div class="t" style="left:1677px;top:396.5px;height:16px;line-height:16px;font-size:12px;color:#dcdcdc;">初始化可见</div>
<div class="a" style="left:1765px;top:89px;width:127px;height:25px;background:#c4c4c4;border-radius:3px;color:#8a8a8a;font-size:14px;line-height:25px;padding-left:10px">pie8XwFb5ucuH</div>
<div class="a" style="left:1765px;top:127px;width:127px;height:25px;background:#2a2a2a;border-radius:3px;color:#9a9a9a;font-size:14px;line-height:25px;padding-left:11px">pie0</div>
<div class="a" style="left:1765px;top:164px;width:25px;height:25px;background:#2a2a2a;border-radius:3px"></div>
<div class="a" style="left:1771px;top:171px;width:15px;height:11px;background:#000;"></div>
<div class="a" style="left:1794px;top:164px;width:98px;height:25px;background:#2a2a2a;border-radius:3px;color:#9a9a9a;font-size:14px;line-height:25px;text-align:center">transparent</div>
<div class="a" style="left:1765px;top:202px;width:25px;height:25px;background:#2a2a2a;border-radius:3px"></div>
<div class="a" style="left:1771px;top:209px;width:15px;height:11px;background:#000;"></div>
<div class="a" style="left:1794px;top:202px;width:98px;height:25px;background:#2a2a2a;border-radius:3px;color:#9a9a9a;font-size:14px;line-height:25px;text-align:center">transparent</div>
<div class="a" style="left:1765px;top:240px;width:127px;height:25px;background:#2a2a2a;border-radius:3px;color:#9a9a9a;font-size:14px;line-height:25px;padding-left:11px">0</div>
<div class="a" style="left:1765px;top:278px;width:127px;height:25px;background:#2a2a2a;border-radius:3px;color:#9a9a9a;font-size:14px;line-height:25px;padding-left:11px">0</div>
<div class="a" style="left:1765px;top:316px;width:127px;height:25px;background:#2a2a2a;border-radius:3px;color:#9a9a9a;font-size:14px;line-height:25px;padding-left:11px">0</div>
<div class="a" style="left:1765px;top:354px;width:127px;height:25px;background:#2a2a2a;border-radius:3px;color:#9a9a9a;font-size:14px;line-height:25px;padding-left:11px"></div>
<svg style="left:1764px;top:394px" width="21" height="21" viewBox="0 0 21 21"><rect x="0.5" y="0.5" width="20" height="20" fill="#cfcfcf" stroke="#dedede"/><path d="M3.6 11.8L6.4 9.3 8.9 11.6 15 4.2 17.6 6.4 9 16.6z" fill="#2e2e2e"/></svg>
<div class="a" style="left:1657px;top:651px;width:256px;height:30px;background:#2a2a2a;"></div>
<div class="t" style="left:1672px;top:656.5px;height:18px;line-height:18px;font-size:14px;color:#e0e0e0;">组件列表</div>
<svg style="left:1733px;top:658px" width="40" height="14" viewBox="0 0 40 14"><path d="M1.5 10.5L7 5l5.5 5.5" stroke="#e0e0e0" stroke-width="2.6" fill="none"/><path d="M25 4l5.5 5.5L36 4" stroke="#e0e0e0" stroke-width="2.6" fill="none"/></svg>
<div class="t" style="left:1871px;top:657.0px;height:16px;line-height:16px;font-size:12px;color:#e0e0e0;">共4个</div>
<svg style="left:1677px;top:694px" width="16" height="16" viewBox="0 0 16 16"><circle cx="6.5" cy="6.5" r="4.8" stroke="#dcdcdc" stroke-width="2" fill="none"/><path d="M10 10l4.5 4.5" stroke="#dcdcdc" stroke-width="2.6" stroke-linecap="round"/></svg>
<div class="a" style="left:1707px;top:690px;width:176px;height:25px;background:#2b2b2b;border-radius:3px;color:#8a8a8a;font-size:13px;line-height:25px;padding-left:12px">请输入组件名称或类型</div>
<div class="a" style="left:1670px;top:722px;width:224px;height:26px;background:#c96262;"></div>
<div class="t" style="left:1699px;top:726.2px;height:16.5px;line-height:16.5px;font-size:12.5px;color:#e9dede;word-spacing:-2px">pie0&nbsp; 饼图</div>
<svg style="left:1850px;top:727.5px" width="12" height="14" viewBox="0 0 12 14"><rect x="0" y="1.5" width="12" height="1.6" fill="#e6c8c8"/><rect x="4" y="0" width="4" height="2" fill="#e6c8c8"/><path d="M1.5 4h9l-.6 10H2.1z M3.5 5.5v7 M6 5.5v7 M8.5 5.5v7" stroke="#c96262" stroke-width="0.9" fill="#e6c8c8"/></svg>
<svg style="left:1870px;top:729.5px" width="15" height="10" viewBox="0 0 15 10"><path d="M0 5C2.5 1.2 5 0 7.5 0S12.5 1.2 15 5c-2.5 3.8-5 5-7.5 5S2.5 8.8 0 5z M7.5 2a3 3 0 1 0 0 6a3 3 0 1 0 0-6z" fill="#e6c8c8" fill-rule="evenodd"/><circle cx="7.5" cy="5" r="1.6" fill="#e6c8c8"/></svg>
<div class="t" style="left:1699px;top:754.2px;height:16.5px;line-height:16.5px;font-size:12.5px;color:#858585;word-spacing:-2px">gauge1&nbsp; 仪表盘</div>
<svg style="left:1850px;top:755.5px" width="12" height="14" viewBox="0 0 12 14"><rect x="0" y="1.5" width="12" height="1.6" fill="#7a7a7a"/><rect x="4" y="0" width="4" height="2" fill="#7a7a7a"/><path d="M1.5 4h9l-.6 10H2.1z M3.5 5.5v7 M6 5.5v7 M8.5 5.5v7" stroke="#444" stroke-width="0.9" fill="#7a7a7a"/></svg>
<svg style="left:1870px;top:757.5px" width="15" height="10" viewBox="0 0 15 10"><path d="M0 5C2.5 1.2 5 0 7.5 0S12.5 1.2 15 5c-2.5 3.8-5 5-7.5 5S2.5 8.8 0 5z M7.5 2a3 3 0 1 0 0 6a3 3 0 1 0 0-6z" fill="#7a7a7a" fill-rule="evenodd"/><circle cx="7.5" cy="5" r="1.6" fill="#7a7a7a"/></svg>
<div class="t" style="left:1699px;top:782.2px;height:16.5px;line-height:16.5px;font-size:12.5px;color:#858585;word-spacing:-2px">liquidFill2&nbsp; 水球图</div>
<svg style="left:1850px;top:783.5px" width="12" height="14" viewBox="0 0 12 14"><rect x="0" y="1.5" width="12" height="1.6" fill="#7a7a7a"/><rect x="4" y="0" width="4" height="2" fill="#7a7a7a"/><path d="M1.5 4h9l-.6 10H2.1z M3.5 5.5v7 M6 5.5v7 M8.5 5.5v7" stroke="#444" stroke-width="0.9" fill="#7a7a7a"/></svg>
<svg style="left:1870px;top:785.5px" width="15" height="10" viewBox="0 0 15 10"><path d="M0 5C2.5 1.2 5 0 7.5 0S12.5 1.2 15 5c-2.5 3.8-5 5-7.5 5S2.5 8.8 0 5z M7.5 2a3 3 0 1 0 0 6a3 3 0 1 0 0-6z" fill="#7a7a7a" fill-rule="evenodd"/><circle cx="7.5" cy="5" r="1.6" fill="#7a7a7a"/></svg>
<div class="t" style="left:1699px;top:810.2px;height:16.5px;line-height:16.5px;font-size:12.5px;color:#858585;word-spacing:-2px">line3&nbsp; 折线图</div>
<svg style="left:1850px;top:811.5px" width="12" height="14" viewBox="0 0 12 14"><rect x="0" y="1.5" width="12" height="1.6" fill="#7a7a7a"/><rect x="4" y="0" width="4" height="2" fill="#7a7a7a"/><path d="M1.5 4h9l-.6 10H2.1z M3.5 5.5v7 M6 5.5v7 M8.5 5.5v7" stroke="#444" stroke-width="0.9" fill="#7a7a7a"/></svg>
<svg style="left:1870px;top:813.5px" width="15" height="10" viewBox="0 0 15 10"><path d="M0 5C2.5 1.2 5 0 7.5 0S12.5 1.2 15 5c-2.5 3.8-5 5-7.5 5S2.5 8.8 0 5z M7.5 2a3 3 0 1 0 0 6a3 3 0 1 0 0-6z" fill="#7a7a7a" fill-rule="evenodd"/><circle cx="7.5" cy="5" r="1.6" fill="#7a7a7a"/></svg>
<svg style="left:1682px;top:728px" width="13" height="13" viewBox="0 0 13 13"><circle cx="6.5" cy="6.5" r="5.3" stroke="#e6d4d4" stroke-width="1.8" fill="none"/><path d="M6.5 3v3.5l2.5 2" stroke="#e6d4d4" stroke-width="1.6" fill="none"/></svg>
<svg style="left:1682px;top:756px" width="13" height="13" viewBox="0 0 13 13"><path d="M1.5 10A5.3 5.3 0 1 1 11.5 10" stroke="#cdc1c1" stroke-width="1.8" fill="none"/><path d="M5.5 8.5l3-3" stroke="#cdc1c1" stroke-width="1.6"/><rect x="0.5" y="11" width="12" height="1.6" fill="#cdc1c1"/></svg>
<svg style="left:1682px;top:784px" width="13" height="13" viewBox="0 0 13 13"><circle cx="6.5" cy="6.5" r="6.3" fill="#cdc1c1"/><path d="M2.5 6A4.3 4.3 0 0 1 10.5 6c-1.5-.8-2.5.8-4 .8S4 5.2 2.5 6z" fill="#444"/></svg>
<svg style="left:1682px;top:812px" width="13" height="13" viewBox="0 0 13 13"><path d="M1 0v12h12" stroke="#cdc1c1" stroke-width="1.8" fill="none"/><path d="M3.5 9l2.5-3 2 1.5 3.5-3.5" stroke="#cdc1c1" stroke-width="1.6" fill="none"/></svg>
</body></html>
